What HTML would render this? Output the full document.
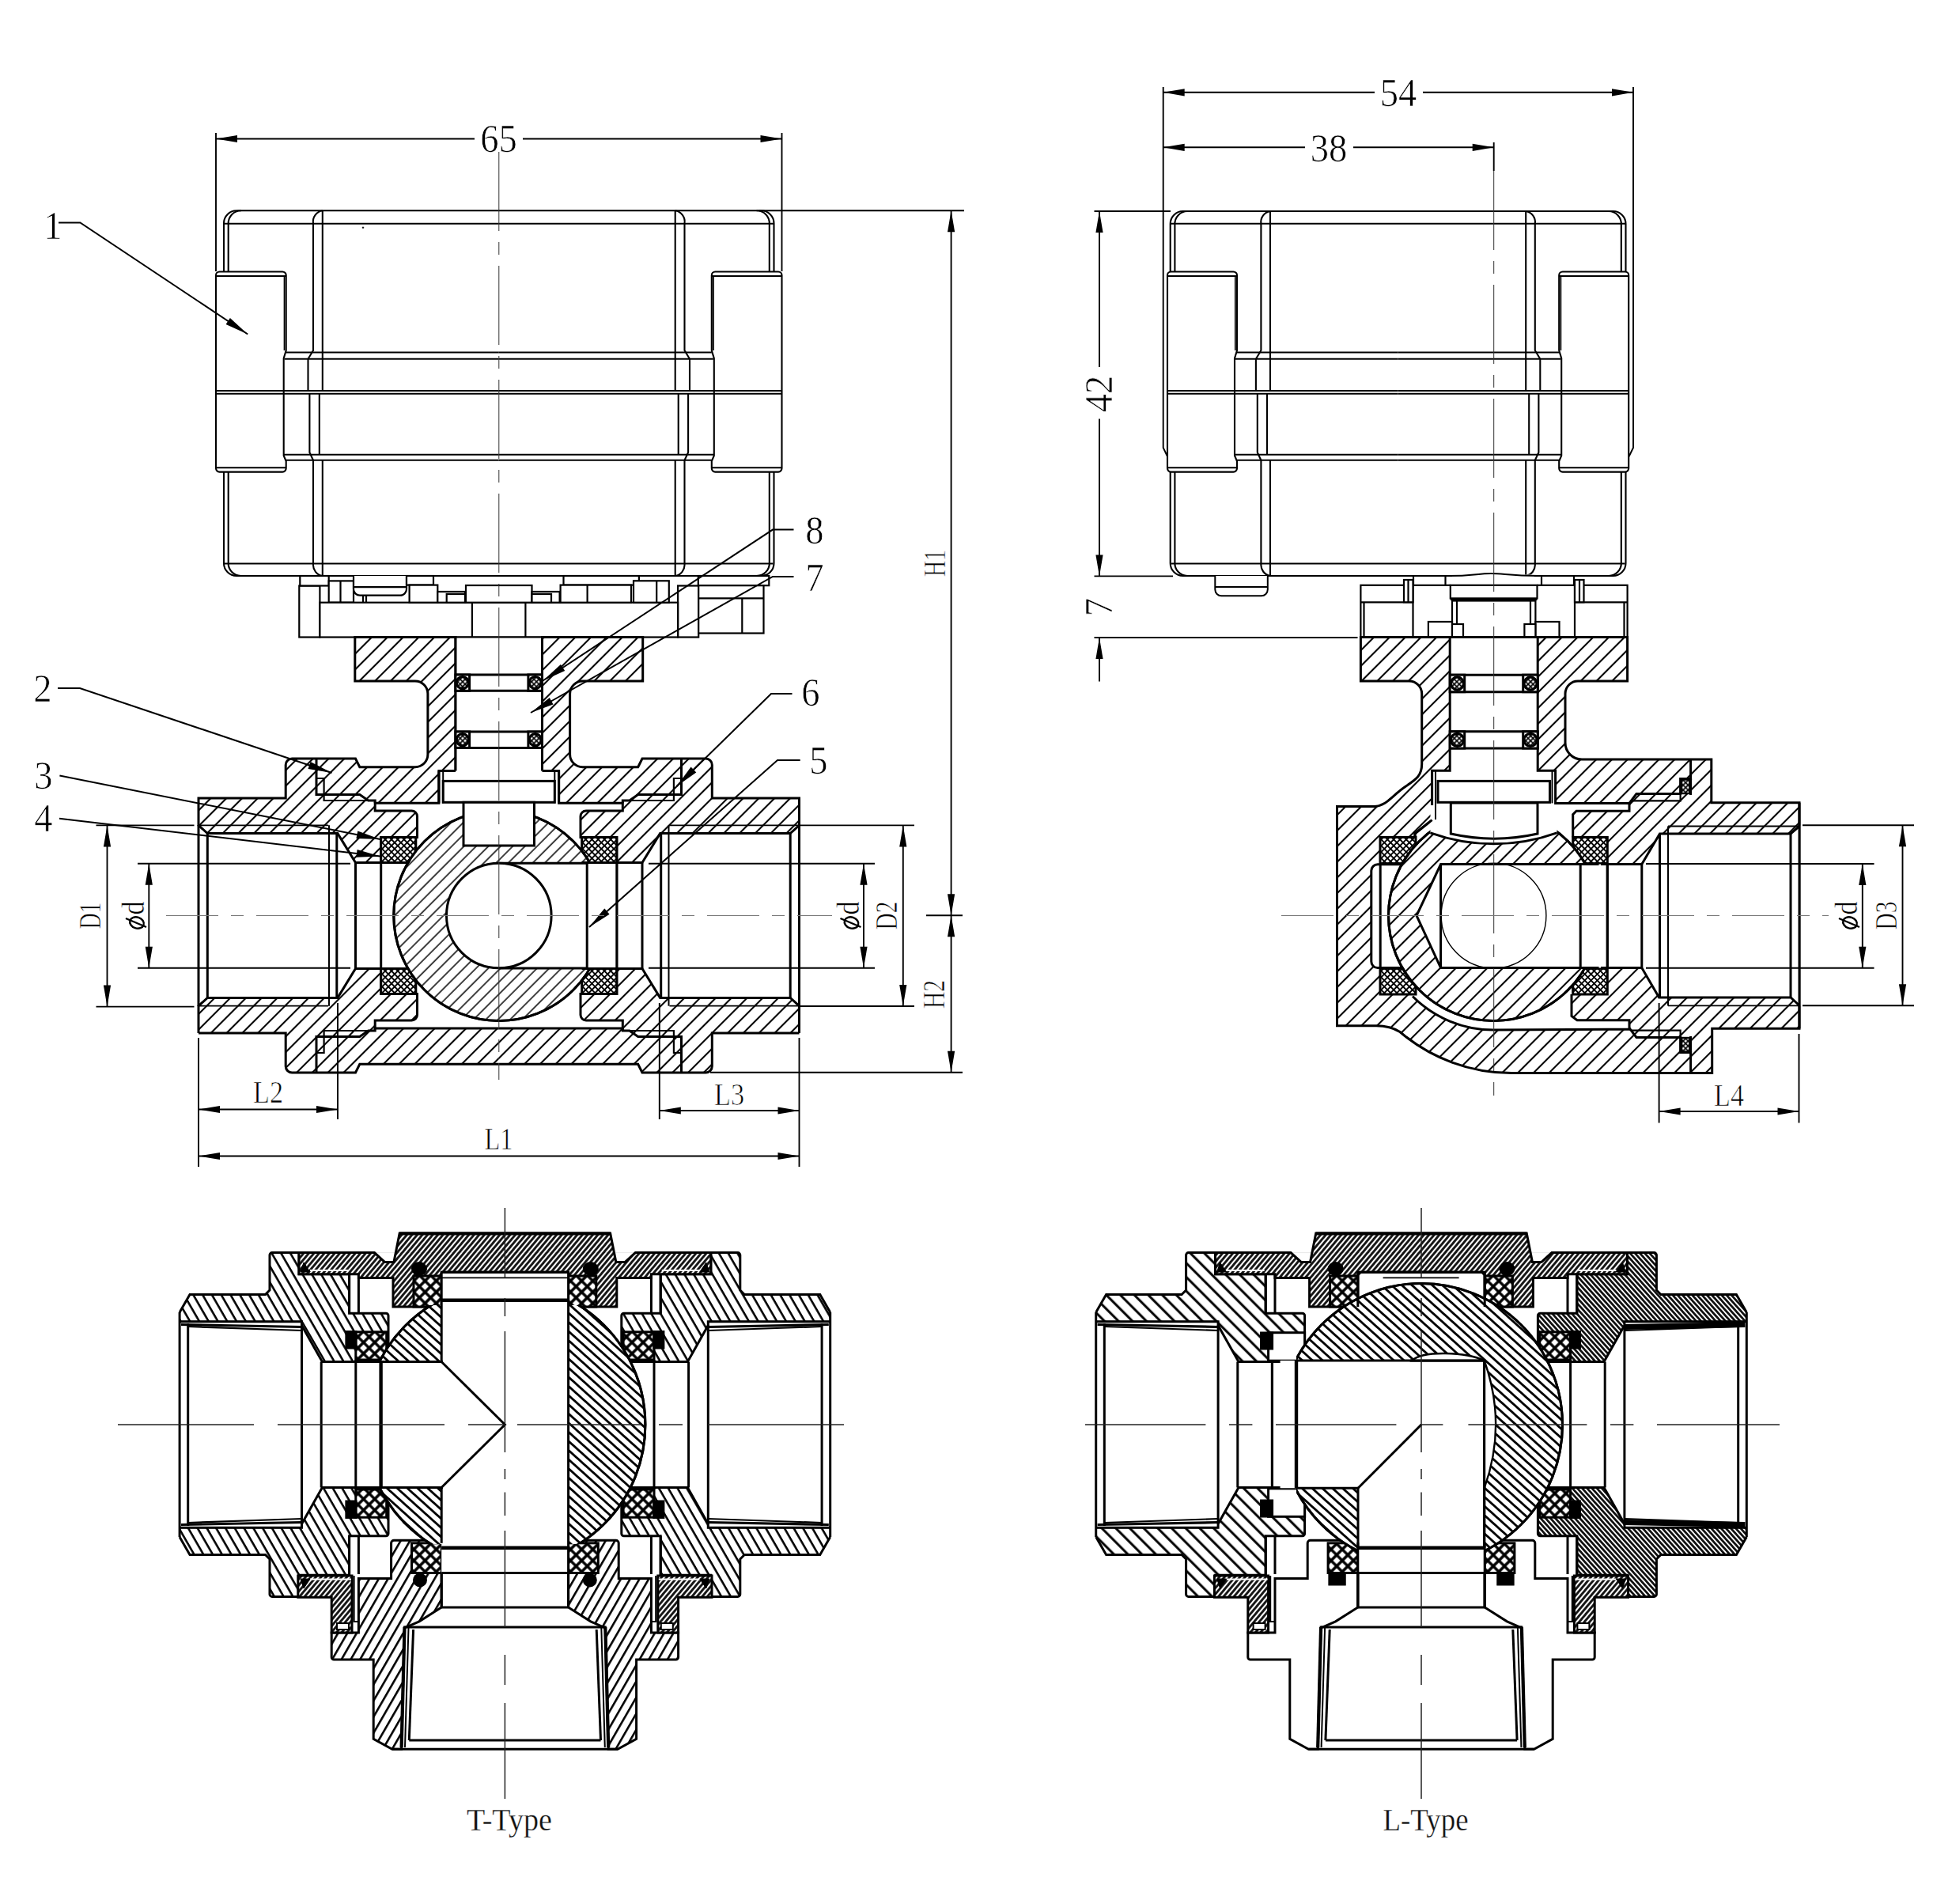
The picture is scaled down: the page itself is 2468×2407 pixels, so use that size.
<!DOCTYPE html>
<html><head><meta charset="utf-8"><title>3-way motorized ball valve drawing</title>
<style>html,body{margin:0;padding:0;background:#fff}svg{display:block;font-family:"Liberation Serif",serif}</style>
</head><body>
<svg width="2468" height="2407" viewBox="0 0 2468 2407">
<defs>
<pattern id="h1" width="14" height="14" patternUnits="userSpaceOnUse" patternTransform="rotate(-45)"><path d="M0,6 H14" stroke="#000" stroke-width="2.1"/></pattern>
<pattern id="h1b" width="14" height="14" patternUnits="userSpaceOnUse" patternTransform="rotate(-45)"><path d="M0,11 H14" stroke="#000" stroke-width="2.1"/></pattern>
<pattern id="hb" width="10.9" height="10.9" patternUnits="userSpaceOnUse" patternTransform="rotate(-45)"><path d="M0,5 H10.9" stroke="#000" stroke-width="1.5"/></pattern>
<pattern id="xh" width="5.6" height="5.6" patternUnits="userSpaceOnUse" patternTransform="rotate(-45)"><rect width="5.6" height="5.6" fill="#fff"/><path d="M0,2.8 H5.6 M2.8,0 V5.6" stroke="#000" stroke-width="1.9"/></pattern>
<pattern id="xs" width="4.4" height="4.4" patternUnits="userSpaceOnUse" patternTransform="rotate(-45)"><rect width="4.4" height="4.4" fill="#fff"/><path d="M0,2.2 H4.4 M2.2,0 V4.4" stroke="#000" stroke-width="1.6"/></pattern>
<pattern id="he" width="10.2" height="10.2" patternUnits="userSpaceOnUse" patternTransform="rotate(60)"><path d="M0,5 H10.2" stroke="#000" stroke-width="2.6"/></pattern>
<pattern id="hbody" width="10.2" height="10.2" patternUnits="userSpaceOnUse" patternTransform="rotate(-60)"><path d="M0,5 H10.2" stroke="#000" stroke-width="2.6"/></pattern>
<pattern id="hball" width="8.6" height="8.6" patternUnits="userSpaceOnUse" patternTransform="rotate(42)"><path d="M0,4.3 H8.6" stroke="#000" stroke-width="2.8"/></pattern>
<pattern id="hd" width="5" height="5" patternUnits="userSpaceOnUse" patternTransform="rotate(-50)"><rect width="5" height="5" fill="#fff"/><path d="M0,2.5 H5" stroke="#111" stroke-width="2.9"/></pattern>
<pattern id="hd2" width="4.6" height="4.6" patternUnits="userSpaceOnUse" patternTransform="rotate(48)"><rect width="4.6" height="4.6" fill="#fff"/><path d="M0,2.3 H4.6" stroke="#111" stroke-width="2.8"/></pattern>
<pattern id="he2" width="12.5" height="12.5" patternUnits="userSpaceOnUse" patternTransform="rotate(45)"><path d="M0,6 H12.5" stroke="#000" stroke-width="3"/></pattern>
<pattern id="xb" width="10" height="10" patternUnits="userSpaceOnUse" patternTransform="rotate(-45)"><rect width="10" height="10" fill="#fff"/><path d="M0,5 H10 M5,0 V10" stroke="#000" stroke-width="3.4"/></pattern>
<clipPath id="clipT"><rect x="470" y="1650" width="352" height="302"/></clipPath>
<clipPath id="clipL"><rect x="1639" y="1600" width="350" height="400"/></clipPath>
</defs>
<rect width="2468" height="2407" fill="#fff"/>

<path d="M299,266.3 L962.5,266.3 A16,16 0 0 1 978.5,282.3 L978.5,712 A16,16 0 0 1 962.5,728 L299,728 A16,16 0 0 1 283,712 L283,282.3 A16,16 0 0 1 299,266.3 Z" fill="#fff" stroke="#000" stroke-width="2.1" />
<path d="M283,282.8 L978.5,282.8" stroke="#000" stroke-width="2.1" fill="none" />
<path d="M284,712.5 L977.5,712.5" stroke="#000" stroke-width="2.1" fill="none" />
<path d="M305,266.3 A16,16 0 0 0 288.7,283.3 L288.7,344" fill="none" stroke="#000" stroke-width="2.1" />
<path d="M288.7,597 L288.7,711 A16,16 0 0 0 305,728" fill="none" stroke="#000" stroke-width="2.1" />
<path d="M407.8,266.3 A14,14 0 0 0 396,282.3 L396,443 L389.5,453.7 L389.5,494" fill="none" stroke="#000" stroke-width="2.1" />
<path d="M407.8,266.3 L407.8,494" fill="none" stroke="#000" stroke-width="2.1" />
<path d="M391.4,498 L391.4,572 L396,581.8 L396,713 A14,14 0 0 0 407.8,728" fill="none" stroke="#000" stroke-width="2.1" />
<path d="M403.8,498 L403.8,574.7" fill="none" stroke="#000" stroke-width="2.1" />
<path d="M407.8,581.8 L407.8,728" fill="none" stroke="#000" stroke-width="2.1" />
<path d="M361.7,445.5 L630.8,445.5" fill="none" stroke="#000" stroke-width="2.1" />
<path d="M359.7,453.7 L630.8,453.7" fill="none" stroke="#000" stroke-width="2.1" />
<path d="M358.7,574.7 L630.8,574.7" fill="none" stroke="#000" stroke-width="2.1" />
<path d="M361.7,581.8 L630.8,581.8" fill="none" stroke="#000" stroke-width="2.1" />
<path d="M273,348 A4.5,4.5 0 0 1 277.5,343.5 L357.2,343.5 A4.5,4.5 0 0 1 361.7,348 L361.7,443 L358.7,453 L358.7,576 L361.7,583 L361.7,592 A4.5,4.5 0 0 1 357.2,596.6 L277.5,596.6 A4.5,4.5 0 0 1 273,592 Z" fill="#fff" stroke="#000" stroke-width="2.1" />
<path d="M273,349 L361.7,349" fill="none" stroke="#000" stroke-width="2.1" />
<path d="M273,591.2 L361.7,591.2" fill="none" stroke="#000" stroke-width="2.1" />
<path d="M359.5,349 L359.5,443" fill="none" stroke="#000" stroke-width="1.7" />
<path d="M273,494 L630.8,494" fill="none" stroke="#000" stroke-width="2.1" />
<path d="M273,497.8 L630.8,497.8" fill="none" stroke="#000" stroke-width="2.1" />
<path d="M956.5,266.3 A16,16 0 0 1 972.8,283.3 L972.8,344" fill="none" stroke="#000" stroke-width="2.1" />
<path d="M972.8,597 L972.8,711 A16,16 0 0 1 956.5,728" fill="none" stroke="#000" stroke-width="2.1" />
<path d="M853.7,266.3 A14,14 0 0 1 865.5,282.3 L865.5,443 L872,453.7 L872,494" fill="none" stroke="#000" stroke-width="2.1" />
<path d="M853.7,266.3 L853.7,494" fill="none" stroke="#000" stroke-width="2.1" />
<path d="M870.1,498 L870.1,572 L865.5,581.8 L865.5,713 A14,14 0 0 1 853.7,728" fill="none" stroke="#000" stroke-width="2.1" />
<path d="M857.7,498 L857.7,574.7" fill="none" stroke="#000" stroke-width="2.1" />
<path d="M853.7,581.8 L853.7,728" fill="none" stroke="#000" stroke-width="2.1" />
<path d="M899.8,445.5 L630.8,445.5" fill="none" stroke="#000" stroke-width="2.1" />
<path d="M901.8,453.7 L630.8,453.7" fill="none" stroke="#000" stroke-width="2.1" />
<path d="M902.8,574.7 L630.8,574.7" fill="none" stroke="#000" stroke-width="2.1" />
<path d="M899.8,581.8 L630.8,581.8" fill="none" stroke="#000" stroke-width="2.1" />
<path d="M988.5,348 A4.5,4.5 0 0 0 984,343.5 L904.3,343.5 A4.5,4.5 0 0 0 899.8,348 L899.8,443 L902.8,453 L902.8,576 L899.8,583 L899.8,592 A4.5,4.5 0 0 0 904.3,596.6 L984,596.6 A4.5,4.5 0 0 0 988.5,592 Z" fill="#fff" stroke="#000" stroke-width="2.1" />
<path d="M988.5,349 L899.8,349" fill="none" stroke="#000" stroke-width="2.1" />
<path d="M988.5,591.2 L899.8,591.2" fill="none" stroke="#000" stroke-width="2.1" />
<path d="M902,349 L902,443" fill="none" stroke="#000" stroke-width="1.7" />
<path d="M988.5,494 L630.8,494" fill="none" stroke="#000" stroke-width="2.1" />
<path d="M988.5,497.8 L630.8,497.8" fill="none" stroke="#000" stroke-width="2.1" />
<circle cx="459" cy="287.7" r="0.9" fill="#000" stroke="#000" stroke-width="0.5" />
<rect x="378.3" y="740.5" width="26.1" height="65" rx="0" fill="#fff" stroke="#000" stroke-width="2.2" />
<rect x="857.1" y="740.5" width="26.1" height="65" rx="0" fill="#fff" stroke="#000" stroke-width="2.2" />
<rect x="379.3" y="728" width="36.4" height="12.5" rx="0" fill="#fff" stroke="#000" stroke-width="2.2" />
<rect x="415.7" y="734.4" width="31.3" height="27.3" rx="0" fill="#fff" stroke="#000" stroke-width="2.2" />
<path d="M430.5,734.4 L430.5,761.7" stroke="#000" stroke-width="2.2" fill="none" />
<rect x="404.4" y="761.7" width="452.7" height="43.8" rx="0" fill="#fff" stroke="#000" stroke-width="2.2" />
<path d="M447,728 L447,744.7 A8,8 0 0 0 455,752.7 L506,752.7 A8,8 0 0 0 514,744.7 L514,728" fill="#fff" stroke="#000" stroke-width="2.2" />
<path d="M447,742.2 L514,742.2" stroke="#000" stroke-width="2.2" fill="none" />
<path d="M459,752.7 L459,761.7" stroke="#000" stroke-width="2.2" fill="none" />
<path d="M463,752.7 L463,761.7" stroke="#000" stroke-width="2.2" fill="none" />
<rect x="514" y="728" width="34" height="11.6" rx="0" fill="#fff" stroke="#000" stroke-width="2.2" />
<rect x="517.6" y="739.6" width="35.7" height="22.1" rx="0" fill="#fff" stroke="#000" stroke-width="2.2" />
<rect x="553.3" y="748" width="34.7" height="13.7" rx="0" fill="#fff" stroke="#000" stroke-width="2.2" />
<rect x="564.7" y="751" width="23.3" height="10.7" rx="0" fill="#fff" stroke="#000" stroke-width="2.2" />
<rect x="589" y="740" width="83.5" height="21.7" rx="0" fill="#fff" stroke="#000" stroke-width="2.2" />
<rect x="672.5" y="748" width="35.1" height="13.7" rx="0" fill="#fff" stroke="#000" stroke-width="2.2" />
<rect x="672.5" y="751" width="24.5" height="10.7" rx="0" fill="#fff" stroke="#000" stroke-width="2.2" />
<rect x="712.5" y="728" width="95.4" height="11.6" rx="0" fill="#fff" stroke="#000" stroke-width="2.2" />
<rect x="708.6" y="739.6" width="89.4" height="22.1" rx="0" fill="#fff" stroke="#000" stroke-width="2.2" />
<path d="M742.6,739.6 L742.6,761.7" stroke="#000" stroke-width="2.2" fill="none" />
<rect x="801" y="734.3" width="44.8" height="27.4" rx="0" fill="#fff" stroke="#000" stroke-width="2.2" />
<path d="M830.2,734.3 L830.2,761.7" stroke="#000" stroke-width="2.2" fill="none" />
<rect x="882.8" y="728" width="89.5" height="12.2" rx="0" fill="#fff" stroke="#000" stroke-width="2.2" />
<rect x="883.2" y="740.2" width="82.3" height="60.3" rx="0" fill="#fff" stroke="#000" stroke-width="2.2" />
<path d="M883.2,756.3 L965.5,756.3" stroke="#000" stroke-width="2.2" fill="none" />
<path d="M938.3,756.3 L938.3,800.5" stroke="#000" stroke-width="2.2" fill="none" />
<path d="M596.9,761.7 L596.9,805.5" stroke="#000" stroke-width="2.2" fill="none" />
<path d="M664.4,761.7 L664.4,805.5" stroke="#000" stroke-width="2.2" fill="none" />
<path d="M251,1009 L361.2,1009 L361.2,967 A8,8 0 0 1 369.2,959 L449.5,959 L454.8,969.7 L524.9,969.7 A16,16 0 0 0 540.9,953.7 L540.9,877 A16,16 0 0 0 524.9,861 L448.8,861 L448.8,805.5 L576,805.5 L576,974.5 L554.9,974.5 L554.9,1015.3 L474.2,1015.3 L474.2,1025 L520.4,1025 A7,7 0 0 1 527.5,1032 L527.5,1058.4 L481.7,1058.4 L481.7,1090.6 L449.5,1090.6 L426.9,1053.6 L262.3,1053.6 L251,1043.3 Z" fill="url(#h1)" stroke="#000" stroke-width="3" />
<path d="M1010.5,1009 L900.3,1009 L900.3,967 A8,8 0 0 0 892.3,959 L812,959 L806.7,969.7 L736.6,969.7 A16,16 0 0 1 720.6,953.7 L720.6,877 A16,16 0 0 1 736.6,861 L812.7,861 L812.7,805.5 L685.5,805.5 L685.5,974.5 L706.6,974.5 L706.6,1015.3 L787.3,1015.3 L787.3,1025 L741.1,1025 A7,7 0 0 0 734,1032 L734,1058.4 L779.8,1058.4 L779.8,1090.6 L812,1090.6 L834.6,1053.6 L999.2,1053.6 L1010.5,1043.3 Z" fill="url(#h1)" stroke="#000" stroke-width="3" />
<path d="M251,1306 L361.2,1306 L361.2,1348 A8,8 0 0 0 369.2,1356 L449.5,1356 L454.8,1345.3 L630.8,1345.3 L630.8,1300 L474.2,1300 L474.2,1290 L520.4,1290 A7,7 0 0 0 527.5,1283 L527.5,1256.6 L481.7,1256.6 L481.7,1224.4 L449.5,1224.4 L426.9,1261.4 L262.3,1261.4 L251,1271.7 Z" fill="url(#h1)" stroke="none" stroke-width="0" />
<path d="M251,1306 L361.2,1306 L361.2,1348 A8,8 0 0 0 369.2,1356 L449.5,1356 L454.8,1345.3 L630.8,1345.3" fill="none" stroke="#000" stroke-width="3" />
<path d="M630.8,1300 L474.2,1300 L474.2,1290 L520.4,1290 A7,7 0 0 0 527.5,1283 L527.5,1256.6 L481.7,1256.6 L481.7,1224.4 L449.5,1224.4 L426.9,1261.4 L262.3,1261.4 L251,1271.7 L251,1306" fill="none" stroke="#000" stroke-width="3" />
<path d="M1010.5,1306 L900.3,1306 L900.3,1348 A8,8 0 0 1 892.3,1356 L812,1356 L806.7,1345.3 L630.8,1345.3 L630.8,1300 L787.3,1300 L787.3,1290 L741.1,1290 A7,7 0 0 1 734,1283 L734,1256.6 L779.8,1256.6 L779.8,1224.4 L812,1224.4 L834.6,1261.4 L999.2,1261.4 L1010.5,1271.7 Z" fill="url(#h1)" stroke="none" stroke-width="0" />
<path d="M1010.5,1306 L900.3,1306 L900.3,1348 A8,8 0 0 1 892.3,1356 L812,1356 L806.7,1345.3 L630.8,1345.3" fill="none" stroke="#000" stroke-width="3" />
<path d="M630.8,1300 L787.3,1300 L787.3,1290 L741.1,1290 A7,7 0 0 1 734,1283 L734,1256.6 L779.8,1256.6 L779.8,1224.4 L812,1224.4 L834.6,1261.4 L999.2,1261.4 L1010.5,1271.7 L1010.5,1306" fill="none" stroke="#000" stroke-width="3" />
<path d="M251,1043.3 L415,1043.3" fill="none" stroke="#000" stroke-width="1.8" />
<path d="M251,1271.7 L415,1271.7" fill="none" stroke="#000" stroke-width="1.8" />
<path d="M262.3,1053.6 L262.3,1261.4" fill="none" stroke="#000" stroke-width="3" />
<path d="M251,1043 L251,1272" fill="none" stroke="#000" stroke-width="3" />
<path d="M416,1043.3 L416,1271.7" fill="none" stroke="#000" stroke-width="2" />
<path d="M425.8,1053.6 L425.8,1261.4" fill="none" stroke="#000" stroke-width="3" />
<path d="M449.5,1090.6 L449.5,1224.4" fill="none" stroke="#000" stroke-width="3" />
<path d="M481.7,1090.6 L481.7,1224.4" fill="none" stroke="#000" stroke-width="3" />
<path d="M400,959 L400,1004.6 L454.8,1004.6 L465.6,1012 L474.2,1012 L474.2,1015.3" fill="none" stroke="#000" stroke-width="3" />
<path d="M400,984 L409.6,984 L409.6,1012 L465.6,1012" fill="none" stroke="#000" stroke-width="2.2" />
<path d="M481.7,1058.4 L525.8,1058.4 L525.8,1090.6 L481.7,1090.6 Z" fill="url(#xh)" stroke="#000" stroke-width="3" />
<path d="M400,1356 L400,1310.4 L454.8,1310.4 L465.6,1303 L474.2,1303 L474.2,1299.7" fill="none" stroke="#000" stroke-width="3" />
<path d="M400,1331 L409.6,1331 L409.6,1303 L465.6,1303" fill="none" stroke="#000" stroke-width="2.2" />
<path d="M481.7,1256.6 L525.8,1256.6 L525.8,1224.4 L481.7,1224.4 Z" fill="url(#xh)" stroke="#000" stroke-width="3" />
<path d="M554.9,974.5 L554.9,1015.3" fill="none" stroke="#000" stroke-width="3" />
<path d="M1010.5,1043.3 L846.5,1043.3" fill="none" stroke="#000" stroke-width="1.8" />
<path d="M1010.5,1271.7 L846.5,1271.7" fill="none" stroke="#000" stroke-width="1.8" />
<path d="M999.2,1053.6 L999.2,1261.4" fill="none" stroke="#000" stroke-width="3" />
<path d="M1010.5,1043 L1010.5,1272" fill="none" stroke="#000" stroke-width="3" />
<path d="M845.5,1043.3 L845.5,1271.7" fill="none" stroke="#000" stroke-width="2" />
<path d="M835.7,1053.6 L835.7,1261.4" fill="none" stroke="#000" stroke-width="3" />
<path d="M812,1090.6 L812,1224.4" fill="none" stroke="#000" stroke-width="3" />
<path d="M779.8,1090.6 L779.8,1224.4" fill="none" stroke="#000" stroke-width="3" />
<path d="M861.5,959 L861.5,1004.6 L806.7,1004.6 L795.9,1012 L787.3,1012 L787.3,1015.3" fill="none" stroke="#000" stroke-width="3" />
<path d="M861.5,984 L851.9,984 L851.9,1012 L795.9,1012" fill="none" stroke="#000" stroke-width="2.2" />
<path d="M779.8,1058.4 L735.7,1058.4 L735.7,1090.6 L779.8,1090.6 Z" fill="url(#xh)" stroke="#000" stroke-width="3" />
<path d="M861.5,1356 L861.5,1310.4 L806.7,1310.4 L795.9,1303 L787.3,1303 L787.3,1299.7" fill="none" stroke="#000" stroke-width="3" />
<path d="M861.5,1331 L851.9,1331 L851.9,1303 L795.9,1303" fill="none" stroke="#000" stroke-width="2.2" />
<path d="M779.8,1256.6 L735.7,1256.6 L735.7,1224.4 L779.8,1224.4 Z" fill="url(#xh)" stroke="#000" stroke-width="3" />
<path d="M706.6,974.5 L706.6,1015.3" fill="none" stroke="#000" stroke-width="3" />
<circle cx="630.8" cy="1157.5" r="133" fill="#fff" stroke="#000" stroke-width="3" />
<circle cx="630.8" cy="1157.5" r="133" fill="url(#hb)" stroke="#000" stroke-width="3" />
<rect x="630.8" y="1092" width="150.2" height="132" rx="0" fill="#fff" stroke="none" stroke-width="0" />
<path d="M630.8,1091.3 L742.2,1091.3" stroke="#000" stroke-width="3" fill="none" />
<path d="M630.8,1223.9 L742.2,1223.9" stroke="#000" stroke-width="3" fill="none" />
<path d="M742.2,1091.3 L742.2,1223.9" stroke="#000" stroke-width="3" fill="none" />
<path d="M779.8,1090.6 L779.8,1224.4" stroke="#000" stroke-width="3" fill="none" />
<path d="M735.7,1090.6 L779.8,1090.6" fill="none" stroke="#000" stroke-width="3" />
<path d="M735.7,1224.4 L779.8,1224.4" fill="none" stroke="#000" stroke-width="3" />
<circle cx="630.8" cy="1157.5" r="66.3" fill="#fff" stroke="#000" stroke-width="3" />
<rect x="576" y="805.5" width="109.5" height="181.9" rx="0" fill="#fff" stroke="none" stroke-width="0" />
<path d="M576,805.5 L576,974.5" stroke="#000" stroke-width="3" fill="none" />
<path d="M685.5,805.5 L685.5,974.5" stroke="#000" stroke-width="3" fill="none" />
<path d="M576,805.5 L685.5,805.5" stroke="#000" stroke-width="2.2" fill="none" />
<path d="M576,853 L685.5,853" stroke="#000" stroke-width="3" fill="none" />
<path d="M576,873.3 L685.5,873.3" stroke="#000" stroke-width="3" fill="none" />
<rect x="576" y="853" width="17.6" height="20.3" rx="0" fill="#fff" stroke="#000" stroke-width="3" />
<circle cx="584.8" cy="863.1" r="7.6" fill="url(#xs)" stroke="#000" stroke-width="3.2" />
<rect x="667.9" y="853" width="17.6" height="20.3" rx="0" fill="#fff" stroke="#000" stroke-width="3" />
<circle cx="676.7" cy="863.1" r="7.6" fill="url(#xs)" stroke="#000" stroke-width="3.2" />
<path d="M576,925 L685.5,925" stroke="#000" stroke-width="3" fill="none" />
<path d="M576,945.4 L685.5,945.4" stroke="#000" stroke-width="3" fill="none" />
<rect x="576" y="925" width="17.6" height="20.4" rx="0" fill="#fff" stroke="#000" stroke-width="3" />
<circle cx="584.8" cy="935.2" r="7.6" fill="url(#xs)" stroke="#000" stroke-width="3.2" />
<rect x="667.9" y="925" width="17.6" height="20.4" rx="0" fill="#fff" stroke="#000" stroke-width="3" />
<circle cx="676.7" cy="935.2" r="7.6" fill="url(#xs)" stroke="#000" stroke-width="3.2" />
<path d="M554.9,974.5 L574.5,974.5" fill="none" stroke="#000" stroke-width="3" />
<path d="M687,974.5 L706.6,974.5" fill="none" stroke="#000" stroke-width="3" />
<rect x="560.2" y="987.4" width="141.1" height="26.9" rx="0" fill="#fff" stroke="#000" stroke-width="3" />
<path d="M560.2,974.5 L560.2,1015.3" stroke="#000" stroke-width="2" fill="none" />
<path d="M701.3,974.5 L701.3,1015.3" stroke="#000" stroke-width="2" fill="none" />
<rect x="586" y="1014.3" width="89.5" height="54.7" rx="0" fill="#fff" stroke="#000" stroke-width="3" />
<path d="M273,168 L273,343" stroke="#000" stroke-width="1.9" fill="none" />
<path d="M988.5,168 L988.5,343" stroke="#000" stroke-width="1.9" fill="none" />
<path d="M273,175.5 L600,175.5" stroke="#000" stroke-width="1.9" fill="none" />
<path d="M661,175.5 L988.5,175.5" stroke="#000" stroke-width="1.9" fill="none" />
<path d="M273,175.5 L300,170.9 L300,180.1 Z" fill="#000"/>
<path d="M988.5,175.5 L961.5,180.1 L961.5,170.9 Z" fill="#000"/>
<text x="630.5" y="191.5" font-size="51" text-anchor="middle" fill="#000" stroke="#fff" stroke-width="0.7" textLength="46.6" lengthAdjust="spacingAndGlyphs" >65</text>
<path d="M960,266.3 L1219,266.3" stroke="#000" stroke-width="1.9" fill="none" />
<path d="M1171,1157.3 L1217,1157.3" stroke="#000" stroke-width="1.9" fill="none" />
<path d="M898,1355.7 L1217,1355.7" stroke="#000" stroke-width="1.9" fill="none" />
<path d="M1202.6,266.3 L1202.6,1157.3" stroke="#000" stroke-width="1.9" fill="none" />
<path d="M1202.6,266.3 L1207.2,293.3 L1198,293.3 Z" fill="#000"/>
<path d="M1202.6,1157.3 L1198,1130.3 L1207.2,1130.3 Z" fill="#000"/>
<path d="M1202.6,1157.3 L1202.6,1355.7" stroke="#000" stroke-width="1.9" fill="none" />
<path d="M1202.6,1157.3 L1207.2,1184.3 L1198,1184.3 Z" fill="#000"/>
<path d="M1202.6,1355.7 L1198,1328.7 L1207.2,1328.7 Z" fill="#000"/>
<text x="1195" y="712" font-size="39" text-anchor="middle" fill="#000" stroke="#fff" stroke-width="0.7" transform="rotate(-90 1195 712)" textLength="34" lengthAdjust="spacingAndGlyphs" >H1</text>
<text x="1194" y="1257" font-size="39" text-anchor="middle" fill="#000" stroke="#fff" stroke-width="0.7" transform="rotate(-90 1194 1257)" textLength="36" lengthAdjust="spacingAndGlyphs" >H2</text>
<path d="M1012,1043.4 L1156,1043.4" stroke="#000" stroke-width="1.9" fill="none" />
<path d="M1012,1272 L1156,1272" stroke="#000" stroke-width="1.9" fill="none" />
<path d="M1141.8,1043.4 L1141.8,1272" stroke="#000" stroke-width="1.9" fill="none" />
<path d="M1141.8,1043.4 L1146.4,1070.4 L1137.2,1070.4 Z" fill="#000"/>
<path d="M1141.8,1272 L1137.2,1245 L1146.4,1245 Z" fill="#000"/>
<text x="1134" y="1157.5" font-size="39" text-anchor="middle" fill="#000" stroke="#fff" stroke-width="0.7" transform="rotate(-90 1134 1157.5)" textLength="36" lengthAdjust="spacingAndGlyphs" >D2</text>
<path d="M820,1091.8 L1106,1091.8" stroke="#000" stroke-width="1.9" fill="none" />
<path d="M820,1223.7 L1106,1223.7" stroke="#000" stroke-width="1.9" fill="none" />
<path d="M1092,1091.8 L1092,1223.7" stroke="#000" stroke-width="1.9" fill="none" />
<path d="M1092,1091.8 L1096.6,1118.8 L1087.4,1118.8 Z" fill="#000"/>
<path d="M1092,1223.7 L1087.4,1196.7 L1096.6,1196.7 Z" fill="#000"/>
<g transform="translate(1073.5 1157.5) rotate(-90)">
<ellipse cx="-9" cy="3" rx="7" ry="9" fill="none" stroke="#000" stroke-width="2.4" transform="rotate(18 -9 3)"/>
<path d="M-14.5,15 L-3.5,-11" stroke="#000" stroke-width="2.4"/>
<text x="1" y="12" font-size="39" textLength="17" lengthAdjust="spacingAndGlyphs" stroke="#fff" stroke-width="0.6">d</text>
</g>
<path d="M121.5,1043.4 L245.5,1043.4" stroke="#000" stroke-width="1.9" fill="none" />
<path d="M121.5,1272.6 L245.5,1272.6" stroke="#000" stroke-width="1.9" fill="none" />
<path d="M135.5,1043.4 L135.5,1272.6" stroke="#000" stroke-width="1.9" fill="none" />
<path d="M135.5,1043.4 L140.1,1070.4 L130.9,1070.4 Z" fill="#000"/>
<path d="M135.5,1272.6 L130.9,1245.6 L140.1,1245.6 Z" fill="#000"/>
<text x="127" y="1157.5" font-size="39" text-anchor="middle" fill="#000" stroke="#fff" stroke-width="0.7" transform="rotate(-90 127 1157.5)" textLength="34" lengthAdjust="spacingAndGlyphs" >D1</text>
<path d="M174,1091.8 L443,1091.8" stroke="#000" stroke-width="1.9" fill="none" />
<path d="M174,1223.7 L443,1223.7" stroke="#000" stroke-width="1.9" fill="none" />
<path d="M188.3,1091.8 L188.3,1223.7" stroke="#000" stroke-width="1.9" fill="none" />
<path d="M188.3,1091.8 L192.9,1118.8 L183.7,1118.8 Z" fill="#000"/>
<path d="M188.3,1223.7 L183.7,1196.7 L192.9,1196.7 Z" fill="#000"/>
<g transform="translate(170 1157.5) rotate(-90)">
<ellipse cx="-9" cy="3" rx="7" ry="9" fill="none" stroke="#000" stroke-width="2.4" transform="rotate(18 -9 3)"/>
<path d="M-14.5,15 L-3.5,-11" stroke="#000" stroke-width="2.4"/>
<text x="1" y="12" font-size="39" textLength="17" lengthAdjust="spacingAndGlyphs" stroke="#fff" stroke-width="0.6">d</text>
</g>
<path d="M251,1312 L251,1475" stroke="#000" stroke-width="1.9" fill="none" />
<path d="M1010.5,1312 L1010.5,1475" stroke="#000" stroke-width="1.9" fill="none" />
<path d="M427,1268 L427,1415" stroke="#000" stroke-width="1.9" fill="none" />
<path d="M833.8,1268 L833.8,1415" stroke="#000" stroke-width="1.9" fill="none" />
<path d="M251,1402.5 L427,1402.5" stroke="#000" stroke-width="1.9" fill="none" />
<path d="M251,1402.5 L278,1397.9 L278,1407.1 Z" fill="#000"/>
<path d="M427,1402.5 L400,1407.1 L400,1397.9 Z" fill="#000"/>
<path d="M833.8,1404 L1010.5,1404" stroke="#000" stroke-width="1.9" fill="none" />
<path d="M833.8,1404 L860.8,1399.4 L860.8,1408.6 Z" fill="#000"/>
<path d="M1010.5,1404 L983.5,1408.6 L983.5,1399.4 Z" fill="#000"/>
<path d="M251,1461.5 L1010.5,1461.5" stroke="#000" stroke-width="1.9" fill="none" />
<path d="M251,1461.5 L278,1456.9 L278,1466.1 Z" fill="#000"/>
<path d="M1010.5,1461.5 L983.5,1466.1 L983.5,1456.9 Z" fill="#000"/>
<text x="339" y="1394" font-size="39" text-anchor="middle" fill="#000" stroke="#fff" stroke-width="0.7" textLength="38" lengthAdjust="spacingAndGlyphs" >L2</text>
<text x="922" y="1397" font-size="39" text-anchor="middle" fill="#000" stroke="#fff" stroke-width="0.7" textLength="38" lengthAdjust="spacingAndGlyphs" >L3</text>
<text x="630.5" y="1453" font-size="39" text-anchor="middle" fill="#000" stroke="#fff" stroke-width="0.7" textLength="36" lengthAdjust="spacingAndGlyphs" >L1</text>
<text x="67" y="302.3" font-size="51" text-anchor="middle" fill="#000" stroke="#fff" stroke-width="0.7" textLength="23.3" lengthAdjust="spacingAndGlyphs" >1</text>
<path d="M74,281.4 L101.4,281.4 L313.2,422.5" fill="none" stroke="#000" stroke-width="2" />
<path d="M313.2,422.5 L285.6,409.9 L290.9,401.9 Z" fill="#000"/>
<text x="54" y="886.8" font-size="51" text-anchor="middle" fill="#000" stroke="#fff" stroke-width="0.7" textLength="23.3" lengthAdjust="spacingAndGlyphs" >2</text>
<path d="M73,870 L101,870 L419.5,977" fill="none" stroke="#000" stroke-width="2" />
<path d="M419.5,977 L389.5,972 L392.6,962.9 Z" fill="#000"/>
<text x="55" y="997.3" font-size="51" text-anchor="middle" fill="#000" stroke="#fff" stroke-width="0.7" textLength="23.3" lengthAdjust="spacingAndGlyphs" >3</text>
<path d="M75.4,980.6 L480.8,1061" fill="none" stroke="#000" stroke-width="2" />
<path d="M480.8,1061 L450.4,1059.9 L452.3,1050.5 Z" fill="#000"/>
<text x="55" y="1051.3" font-size="51" text-anchor="middle" fill="#000" stroke="#fff" stroke-width="0.7" textLength="23.3" lengthAdjust="spacingAndGlyphs" >4</text>
<path d="M75,1034.7 L480.8,1082.4" fill="none" stroke="#000" stroke-width="2" />
<path d="M480.8,1082.4 L450.4,1083.7 L451.6,1074.1 Z" fill="#000"/>
<text x="1030" y="687" font-size="51" text-anchor="middle" fill="#000" stroke="#fff" stroke-width="0.7" textLength="23.3" lengthAdjust="spacingAndGlyphs" >8</text>
<path d="M1003.5,669.6 L977,669.6 L686.5,860.5" fill="none" stroke="#000" stroke-width="2" />
<path d="M686.5,860.5 L708.9,840 L714.2,848 Z" fill="#000"/>
<text x="1030" y="746.5" font-size="51" text-anchor="middle" fill="#000" stroke="#fff" stroke-width="0.7" textLength="23.3" lengthAdjust="spacingAndGlyphs" >7</text>
<path d="M1003.5,729 L977,729 L671,901" fill="none" stroke="#000" stroke-width="2" />
<path d="M671,901 L694.8,882.1 L699.5,890.5 Z" fill="#000"/>
<text x="1025" y="892.3" font-size="51" text-anchor="middle" fill="#000" stroke="#fff" stroke-width="0.7" textLength="23.3" lengthAdjust="spacingAndGlyphs" >6</text>
<path d="M1001.5,877 L975,877 L855.5,994" fill="none" stroke="#000" stroke-width="2" />
<path d="M855.5,994 L873.6,969.6 L880.3,976.4 Z" fill="#000"/>
<text x="1035" y="977.5" font-size="51" text-anchor="middle" fill="#000" stroke="#fff" stroke-width="0.7" textLength="23.3" lengthAdjust="spacingAndGlyphs" >5</text>
<path d="M1011.7,961 L983,961 L745,1172" fill="none" stroke="#000" stroke-width="2" />
<path d="M745,1172 L764.3,1148.5 L770.6,1155.7 Z" fill="#000"/>
<path d="M630.8,192 L630.8,1365" stroke="#333" stroke-width="1" fill="none" stroke-dasharray="100 14 16 14"/>
<path d="M210,1157.5 L1052,1157.5" stroke="#777" stroke-width="1.2" fill="none" stroke-dasharray="66 16 16 16"/>
<path d="M1495.7,267 L2039.5,267 A16,16 0 0 1 2055.5,283 L2055.5,712 A16,16 0 0 1 2039.5,728 L1495.7,728 A16,16 0 0 1 1479.7,712 L1479.7,283 A16,16 0 0 1 1495.7,267 Z" fill="#fff" stroke="#000" stroke-width="2.1" />
<path d="M1479.7,282.8 L2055.5,282.8" stroke="#000" stroke-width="2.1" fill="none" />
<path d="M1480.7,712.5 L2054.5,712.5" stroke="#000" stroke-width="2.1" fill="none" />
<path d="M1501.7,267 A16,16 0 0 0 1485.4,284 L1485.4,344" fill="none" stroke="#000" stroke-width="2.1" />
<path d="M1485.4,597 L1485.4,711 A16,16 0 0 0 1501.7,728" fill="none" stroke="#000" stroke-width="2.1" />
<path d="M1606,267 A14,14 0 0 0 1594.4,283 L1594.4,443 L1587.9,453.7 L1587.9,494" fill="none" stroke="#000" stroke-width="2.1" />
<path d="M1606,267 L1606,494" fill="none" stroke="#000" stroke-width="2.1" />
<path d="M1589.8,498 L1589.8,572 L1594.4,581.8 L1594.4,713 A14,14 0 0 0 1606,728" fill="none" stroke="#000" stroke-width="2.1" />
<path d="M1602,498 L1602,574.7" fill="none" stroke="#000" stroke-width="2.1" />
<path d="M1606,581.8 L1606,728" fill="none" stroke="#000" stroke-width="2.1" />
<path d="M1564,445.5 L1767.6,445.5" fill="none" stroke="#000" stroke-width="2.1" />
<path d="M1562,453.7 L1767.6,453.7" fill="none" stroke="#000" stroke-width="2.1" />
<path d="M1561,574.7 L1767.6,574.7" fill="none" stroke="#000" stroke-width="2.1" />
<path d="M1564,581.8 L1767.6,581.8" fill="none" stroke="#000" stroke-width="2.1" />
<path d="M1476,348 A4.5,4.5 0 0 1 1480.5,343.5 L1559.5,343.5 A4.5,4.5 0 0 1 1564,348 L1564,443 L1561,453 L1561,576 L1564,583 L1564,592 A4.5,4.5 0 0 1 1559.5,596.6 L1480.5,596.6 A4.5,4.5 0 0 1 1476,592 Z" fill="#fff" stroke="#000" stroke-width="2.1" />
<path d="M1476,349 L1564,349" fill="none" stroke="#000" stroke-width="2.1" />
<path d="M1476,591.2 L1564,591.2" fill="none" stroke="#000" stroke-width="2.1" />
<path d="M1561.8,349 L1561.8,443" fill="none" stroke="#000" stroke-width="1.7" />
<path d="M1476,494 L1767.6,494" fill="none" stroke="#000" stroke-width="2.1" />
<path d="M1476,497.8 L1767.6,497.8" fill="none" stroke="#000" stroke-width="2.1" />
<path d="M2033.5,267 A16,16 0 0 1 2049.8,284 L2049.8,344" fill="none" stroke="#000" stroke-width="2.1" />
<path d="M2049.8,597 L2049.8,711 A16,16 0 0 1 2033.5,728" fill="none" stroke="#000" stroke-width="2.1" />
<path d="M1929.2,267 A14,14 0 0 1 1940.8,283 L1940.8,443 L1947.3,453.7 L1947.3,494" fill="none" stroke="#000" stroke-width="2.1" />
<path d="M1929.2,267 L1929.2,494" fill="none" stroke="#000" stroke-width="2.1" />
<path d="M1945.4,498 L1945.4,572 L1940.8,581.8 L1940.8,713 A14,14 0 0 1 1929.2,728" fill="none" stroke="#000" stroke-width="2.1" />
<path d="M1933.2,498 L1933.2,574.7" fill="none" stroke="#000" stroke-width="2.1" />
<path d="M1929.2,581.8 L1929.2,728" fill="none" stroke="#000" stroke-width="2.1" />
<path d="M1971.2,445.5 L1767.6,445.5" fill="none" stroke="#000" stroke-width="2.1" />
<path d="M1973.2,453.7 L1767.6,453.7" fill="none" stroke="#000" stroke-width="2.1" />
<path d="M1974.2,574.7 L1767.6,574.7" fill="none" stroke="#000" stroke-width="2.1" />
<path d="M1971.2,581.8 L1767.6,581.8" fill="none" stroke="#000" stroke-width="2.1" />
<path d="M2059.2,348 A4.5,4.5 0 0 0 2054.7,343.5 L1975.7,343.5 A4.5,4.5 0 0 0 1971.2,348 L1971.2,443 L1974.2,453 L1974.2,576 L1971.2,583 L1971.2,592 A4.5,4.5 0 0 0 1975.7,596.6 L2054.7,596.6 A4.5,4.5 0 0 0 2059.2,592 Z" fill="#fff" stroke="#000" stroke-width="2.1" />
<path d="M2059.2,349 L1971.2,349" fill="none" stroke="#000" stroke-width="2.1" />
<path d="M2059.2,591.2 L1971.2,591.2" fill="none" stroke="#000" stroke-width="2.1" />
<path d="M1973.4,349 L1973.4,443" fill="none" stroke="#000" stroke-width="1.7" />
<path d="M2059.2,494 L1767.6,494" fill="none" stroke="#000" stroke-width="2.1" />
<path d="M2059.2,497.8 L1767.6,497.8" fill="none" stroke="#000" stroke-width="2.1" />
<path d="M1536.3,728 L1536.3,745.3 A8,8 0 0 0 1544.3,753.3 L1594.8,753.3 A8,8 0 0 0 1602.8,745.3 L1602.8,728" fill="#fff" stroke="#000" stroke-width="2" />
<path d="M1536.3,742 L1602.8,742" stroke="#000" stroke-width="2" fill="none" />
<path d="M1836,728 L1940,728" stroke="#fff" stroke-width="3.2" fill="none" />
<path d="M1830,728 C1862 728 1868 725 1885 725 C1902 725 1908 728 1946 728" fill="none" stroke="#000" stroke-width="2" />
<rect x="1720.4" y="739.8" width="66.1" height="65.6" rx="0" fill="#fff" stroke="#000" stroke-width="2.2" />
<path d="M1720.4,761.3 L1786.5,761.3" stroke="#000" stroke-width="2.2" fill="none" />
<path d="M1724.5,761.3 L1724.5,805.4" stroke="#000" stroke-width="2.2" fill="none" />
<rect x="1775" y="733" width="11.5" height="28.3" rx="0" fill="#fff" stroke="#000" stroke-width="2.2" />
<path d="M1780.5,733 L1780.5,761.3" stroke="#000" stroke-width="2.2" fill="none" />
<rect x="1991" y="739.8" width="66.6" height="65.6" rx="0" fill="#fff" stroke="#000" stroke-width="2.2" />
<path d="M1991,761.3 L2057.6,761.3" stroke="#000" stroke-width="2.2" fill="none" />
<path d="M2053.5,761.3 L2053.5,805.4" stroke="#000" stroke-width="2.2" fill="none" />
<rect x="1991" y="733" width="11.5" height="28.3" rx="0" fill="#fff" stroke="#000" stroke-width="2.2" />
<path d="M1997,733 L1997,761.3" stroke="#000" stroke-width="2.2" fill="none" />
<path d="M1787,728 L1787,739.8" stroke="#000" stroke-width="2.2" fill="none" />
<path d="M1827.5,728 L1827.5,739.8" stroke="#000" stroke-width="2.2" fill="none" />
<path d="M1949,728 L1949,739.8" stroke="#000" stroke-width="2.2" fill="none" />
<path d="M1990,728 L1990,739.8" stroke="#000" stroke-width="2.2" fill="none" />
<path d="M1787,739.8 L1833.8,739.8" stroke="#000" stroke-width="2.2" fill="none" />
<path d="M1943.5,739.8 L1991,739.8" stroke="#000" stroke-width="2.2" fill="none" />
<rect x="1833.8" y="739.8" width="109.7" height="16.6" rx="0" fill="#fff" stroke="#000" stroke-width="2.2" />
<rect x="1836" y="759.5" width="105.4" height="45.9" rx="0" fill="#fff" stroke="#000" stroke-width="2.2" />
<path d="M1833.8,758 L1943.5,758" stroke="#000" stroke-width="2.2" fill="none" />
<path d="M1842,759.5 L1842,790" stroke="#000" stroke-width="2.2" fill="none" />
<path d="M1935,759.5 L1935,790" stroke="#000" stroke-width="2.2" fill="none" />
<rect x="1805.9" y="786" width="30.1" height="19.4" rx="0" fill="#fff" stroke="#000" stroke-width="2.2" />
<rect x="1836" y="789" width="14" height="16.4" rx="0" fill="#fff" stroke="#000" stroke-width="2.2" />
<rect x="1941.4" y="786" width="30.1" height="19.4" rx="0" fill="#fff" stroke="#000" stroke-width="2.2" />
<rect x="1927.4" y="789" width="14" height="16.4" rx="0" fill="#fff" stroke="#000" stroke-width="2.2" />
<path d="M1720.4,805.4 L2057.6,805.4 L2057.6,861 L1995,861 A16,16 0 0 0 1979,877 L1979,939 A21,21 0 0 0 2000,960 L2163.8,960 L2163.8,1014.8 L2275,1014.8 L2275,1300.3 L2164.7,1300.3 L2164.7,1356.5 L1911,1356.5 A217.8,217.8 0 0 1 1770,1304.5 Q1758 1296.7 1740 1296.7 L1690.5,1296.7 L1690.5,1019.4 L1738,1019.4 C1752 1019.4 1760 1006 1776 995 C1790 985.5 1797.7 981 1797.7 966 L1797.7,877 A16,16 0 0 0 1781.7,861 L1720.4,861 Z" fill="url(#h1)" stroke="#000" stroke-width="3" />
<rect x="1833.2" y="806.8" width="111" height="173.2" rx="0" fill="#fff" stroke="none" stroke-width="0" />
<path d="M1810.6,974.2 L1966.6,974.2 L1966.6,1015.4 L2060,1015.4 L2060,1025.3 L1993,1025.3 L1988.7,1029.6 L1988.7,1110 L1789,1110 L1789,1053.8 L1810.6,1036.6 Z" fill="#fff" stroke="none" stroke-width="0" />
<path d="M1786,1259.5 A144.5,144.5 0 0 0 1888.7,1302 L2060,1301.2 L2060,1289.7 L1994,1289.7 L1987,1284.5 L1987,1200 L1786,1200 Z" fill="#fff" stroke="none" stroke-width="0" />
<path d="M1800,1092.8 L1741.8,1092.8 A8,8 0 0 0 1733.8,1100.8 L1733.8,1215.6 A8,8 0 0 0 1741.8,1223.6 L1800,1223.6 Z" fill="#fff" stroke="none" stroke-width="0" />
<path d="M1988.7,1092.4 L2075.8,1092.4 L2098.5,1054 L2264,1054 L2276.3,1043.5 L2276.3,1271.5 L2264,1261 L2097.6,1261 L2075.8,1223.5 L1988.7,1223.5 Z" fill="#fff" stroke="none" stroke-width="0" />
<path d="M1833.2,805.4 L1833.2,974.2 L1810.6,974.2 L1810.6,1036.6 L1789,1053.8 L1789,1058.4" fill="none" stroke="#000" stroke-width="3" />
<path d="M1944.2,805.4 L1944.2,974.2 L1966.6,974.2 L1966.6,1015.4 L2060,1015.4 L2060,1025.3 L1993,1025.3 L1988.7,1029.6 L1988.7,1058.4" fill="none" stroke="#000" stroke-width="3" />
<path d="M1786,1259.5 A144.5,144.5 0 0 0 1888.7,1302 L2060,1301.2 L2060,1289.7 L1994,1289.7 L1987,1284.5 L1987,1257" fill="none" stroke="#000" stroke-width="3" />
<path d="M1800,1092.8 L1741.8,1092.8 A8,8 0 0 0 1733.8,1100.8 L1733.8,1215.6 A8,8 0 0 0 1741.8,1223.6 L1800,1223.6" fill="none" stroke="#000" stroke-width="3" />
<path d="M1745.2,1092.8 L1745.2,1223.6" stroke="#000" stroke-width="3" fill="none" />
<path d="M1988.7,1092.4 L2075.8,1092.4 L2098.5,1054 L2264,1054 L2275,1044.5" fill="none" stroke="#000" stroke-width="3" />
<path d="M1988.7,1223.5 L2075.8,1223.5 L2097.6,1261 L2264,1261 L2275,1271" fill="none" stroke="#000" stroke-width="3" />
<path d="M2109,1044.5 L2275,1044.5" stroke="#000" stroke-width="1.8" fill="none" />
<path d="M2109,1271.4 L2275,1271.4" stroke="#000" stroke-width="1.8" fill="none" />
<path d="M2032.3,1092.4 L2032.3,1223.5" stroke="#000" stroke-width="3" fill="none" />
<path d="M2075.8,1092.4 L2075.8,1223.5" stroke="#000" stroke-width="3" fill="none" />
<path d="M2264,1054 L2264,1261" stroke="#000" stroke-width="3" fill="none" />
<path d="M2098.5,1054 L2098.5,1261" stroke="#000" stroke-width="3" fill="none" />
<path d="M2109,1044.5 L2109,1271.4" stroke="#000" stroke-width="2" fill="none" />
<path d="M2275,1014.8 L2275,1300.3" stroke="#000" stroke-width="3" fill="none" />
<path d="M2060,1015.4 L2069,1003.5 L2124.6,1003.5 L2124.6,984.4 L2137.6,984.4 L2137.6,960" fill="none" stroke="#000" stroke-width="3" />
<path d="M2062,1012.3 L2124.6,1012.3 L2124.6,1003.5" fill="none" stroke="#000" stroke-width="2.2" />
<rect x="2126" y="985.5" width="10.4" height="17.5" rx="0" fill="url(#xs)" stroke="#000" stroke-width="2.4" />
<path d="M2137.6,984.4 L2137.6,1005" stroke="#000" stroke-width="3" fill="none" />
<path d="M2060,1299.6 L2069,1311.5 L2124.6,1311.5 L2124.6,1330.6 L2137.6,1330.6 L2137.6,1355" fill="none" stroke="#000" stroke-width="3" />
<path d="M2062,1302.7 L2124.6,1302.7 L2124.6,1311.5" fill="none" stroke="#000" stroke-width="2.2" />
<rect x="2126" y="1312" width="10.4" height="17.5" rx="0" fill="url(#xs)" stroke="#000" stroke-width="2.4" />
<path d="M2137.6,1330.6 L2137.6,1310" stroke="#000" stroke-width="3" fill="none" />
<rect x="1745" y="1058.4" width="45" height="33.2" rx="0" fill="url(#xh)" stroke="#000" stroke-width="3" />
<rect x="1745" y="1224.4" width="45" height="32.6" rx="0" fill="url(#xh)" stroke="#000" stroke-width="3" />
<rect x="1988.7" y="1058.4" width="43.6" height="33.2" rx="0" fill="url(#xh)" stroke="#000" stroke-width="3" />
<rect x="1988.7" y="1224.4" width="43.6" height="32.6" rx="0" fill="url(#xh)" stroke="#000" stroke-width="3" />
<circle cx="1888.5" cy="1157.5" r="133" fill="#fff" stroke="#000" stroke-width="3" />
<circle cx="1888.5" cy="1157.5" r="133" fill="url(#h1b)" stroke="#000" stroke-width="3" />
<path d="M1791,1157.5 L1821.6,1092.6 L2024,1092.6 L2024,1223.6 L1821.6,1223.6 Z" fill="#fff" stroke="none" stroke-width="0" />
<path d="M2021.5,1092.6 L1821.6,1092.6 L1791,1157.5 L1821.6,1223.6 L2021.5,1223.6" fill="none" stroke="#000" stroke-width="3" />
<path d="M1821.6,1092.6 L1821.6,1223.6" stroke="#000" stroke-width="3" fill="none" />
<circle cx="1888.5" cy="1157.5" r="66.4" fill="none" stroke="#000" stroke-width="1.4" />
<path d="M1998.2,1092.4 L1998.2,1223.5" stroke="#000" stroke-width="3" fill="none" />
<path d="M2032.3,1092.4 L2032.3,1223.5" stroke="#000" stroke-width="3" fill="none" />
<path d="M1808.5,1052.8 A236,236 0 0 0 1968.5,1052.8 L1968.5,1018 L1808.5,1018 Z" fill="#fff" stroke="none" stroke-width="0" />
<path d="M1808.5,1052.8 A236,236 0 0 0 1968.5,1052.8" fill="none" stroke="#000" stroke-width="3" />
<path d="M1810.6,1036.6 L1789,1053.8 L1789,1058.4" fill="none" stroke="#000" stroke-width="3" />
<path d="M1834.3,1015 L1834.3,1054 A250,250 0 0 0 1944,1054 L1944,1015 Z" fill="#fff" stroke="#000" stroke-width="3" />
<rect x="1818" y="987.4" width="141.5" height="26.9" rx="0" fill="#fff" stroke="#000" stroke-width="3" />
<path d="M1815,974.2 L1815,1036" stroke="#000" stroke-width="2" fill="none" />
<path d="M1962.5,974.2 L1962.5,1015.4" stroke="#000" stroke-width="2" fill="none" />
<path d="M1833.2,805.4 L1944.2,805.4" stroke="#000" stroke-width="2.2" fill="none" />
<path d="M1833.2,853.2 L1944.2,853.2" stroke="#000" stroke-width="3" fill="none" />
<path d="M1833.2,874.7 L1944.2,874.7" stroke="#000" stroke-width="3" fill="none" />
<rect x="1833.2" y="853.2" width="18.5" height="21.5" rx="0" fill="#fff" stroke="#000" stroke-width="3" />
<circle cx="1842.5" cy="864" r="8.1" fill="url(#xs)" stroke="#000" stroke-width="3.2" />
<rect x="1925.7" y="853.2" width="18.5" height="21.5" rx="0" fill="#fff" stroke="#000" stroke-width="3" />
<circle cx="1935" cy="864" r="8.1" fill="url(#xs)" stroke="#000" stroke-width="3.2" />
<path d="M1833.2,924.8 L1944.2,924.8" stroke="#000" stroke-width="3" fill="none" />
<path d="M1833.2,946 L1944.2,946" stroke="#000" stroke-width="3" fill="none" />
<rect x="1833.2" y="924.8" width="18.5" height="21.2" rx="0" fill="#fff" stroke="#000" stroke-width="3" />
<circle cx="1842.5" cy="935.4" r="8.1" fill="url(#xs)" stroke="#000" stroke-width="3.2" />
<rect x="1925.7" y="924.8" width="18.5" height="21.2" rx="0" fill="#fff" stroke="#000" stroke-width="3" />
<circle cx="1935" cy="935.4" r="8.1" fill="url(#xs)" stroke="#000" stroke-width="3.2" />
<path d="M1470.7,110 L1470.7,566 L1476,577" fill="none" stroke="#000" stroke-width="1.9" />
<path d="M2065,110 L2065,566 L2059.6,577" fill="none" stroke="#000" stroke-width="1.9" />
<path d="M1470.7,116.8 L1738,116.8" stroke="#000" stroke-width="1.9" fill="none" />
<path d="M1799,116.8 L2065,116.8" stroke="#000" stroke-width="1.9" fill="none" />
<path d="M1470.7,116.8 L1497.7,112.2 L1497.7,121.4 Z" fill="#000"/>
<path d="M2065,116.8 L2038,121.4 L2038,112.2 Z" fill="#000"/>
<text x="1768" y="133.5" font-size="51" text-anchor="middle" fill="#000" stroke="#fff" stroke-width="0.7" textLength="46.6" lengthAdjust="spacingAndGlyphs" >54</text>
<path d="M1888.7,180 L1888.7,216" stroke="#000" stroke-width="1.9" fill="none" />
<path d="M1470.7,186.3 L1650,186.3" stroke="#000" stroke-width="1.9" fill="none" />
<path d="M1711,186.3 L1888.7,186.3" stroke="#000" stroke-width="1.9" fill="none" />
<path d="M1470.7,186.3 L1497.7,181.7 L1497.7,190.9 Z" fill="#000"/>
<path d="M1888.7,186.3 L1861.7,190.9 L1861.7,181.7 Z" fill="#000"/>
<text x="1680" y="203.5" font-size="51" text-anchor="middle" fill="#000" stroke="#fff" stroke-width="0.7" textLength="46.6" lengthAdjust="spacingAndGlyphs" >38</text>
<path d="M1383.5,267 L1480,267" stroke="#000" stroke-width="1.9" fill="none" />
<path d="M1383.5,728.4 L1483,728.4" stroke="#000" stroke-width="1.9" fill="none" />
<path d="M1383.5,806 L1716.5,806" stroke="#000" stroke-width="1.9" fill="none" />
<path d="M1390,267 L1390,464" stroke="#000" stroke-width="1.9" fill="none" />
<path d="M1390,529.5 L1390,728.4" stroke="#000" stroke-width="1.9" fill="none" />
<path d="M1390,267 L1394.6,294 L1385.4,294 Z" fill="#000"/>
<path d="M1390,728.4 L1385.4,701.4 L1394.6,701.4 Z" fill="#000"/>
<path d="M1390,806 L1390,861.5" stroke="#000" stroke-width="1.9" fill="none" />
<path d="M1390,806 L1394.6,833 L1385.4,833 Z" fill="#000"/>
<text x="1406" y="498" font-size="51" text-anchor="middle" fill="#000" stroke="#fff" stroke-width="0.7" transform="rotate(-90 1406 498)" textLength="46.6" lengthAdjust="spacingAndGlyphs" >42</text>
<text x="1406" y="767.5" font-size="51" text-anchor="middle" fill="#000" stroke="#fff" stroke-width="0.7" transform="rotate(-90 1406 767.5)" textLength="23.3" lengthAdjust="spacingAndGlyphs" >7</text>
<path d="M2279,1043.3 L2420,1043.3" stroke="#000" stroke-width="1.9" fill="none" />
<path d="M2279,1271.3 L2420,1271.3" stroke="#000" stroke-width="1.9" fill="none" />
<path d="M2405.5,1043.3 L2405.5,1271.3" stroke="#000" stroke-width="1.9" fill="none" />
<path d="M2405.5,1043.3 L2410.1,1070.3 L2400.9,1070.3 Z" fill="#000"/>
<path d="M2405.5,1271.3 L2400.9,1244.3 L2410.1,1244.3 Z" fill="#000"/>
<text x="2398" y="1157.5" font-size="39" text-anchor="middle" fill="#000" stroke="#fff" stroke-width="0.7" transform="rotate(-90 2398 1157.5)" textLength="36" lengthAdjust="spacingAndGlyphs" >D3</text>
<path d="M2081,1092 L2369.5,1092" stroke="#000" stroke-width="1.9" fill="none" />
<path d="M2081,1223.8 L2369.5,1223.8" stroke="#000" stroke-width="1.9" fill="none" />
<path d="M2354.8,1092 L2354.8,1223.8" stroke="#000" stroke-width="1.9" fill="none" />
<path d="M2354.8,1092 L2359.4,1119 L2350.2,1119 Z" fill="#000"/>
<path d="M2354.8,1223.8 L2350.2,1196.8 L2359.4,1196.8 Z" fill="#000"/>
<g transform="translate(2336 1157.5) rotate(-90)">
<ellipse cx="-9" cy="3" rx="7" ry="9" fill="none" stroke="#000" stroke-width="2.4" transform="rotate(18 -9 3)"/>
<path d="M-14.5,15 L-3.5,-11" stroke="#000" stroke-width="2.4"/>
<text x="1" y="12" font-size="39" textLength="17" lengthAdjust="spacingAndGlyphs" stroke="#fff" stroke-width="0.6">d</text>
</g>
<path d="M2097.6,1268 L2097.6,1419.5" stroke="#000" stroke-width="1.9" fill="none" />
<path d="M2274.5,1307 L2274.5,1419.5" stroke="#000" stroke-width="1.9" fill="none" />
<path d="M2097.6,1405 L2274.5,1405" stroke="#000" stroke-width="1.9" fill="none" />
<path d="M2097.6,1405 L2124.6,1400.4 L2124.6,1409.6 Z" fill="#000"/>
<path d="M2274.5,1405 L2247.5,1409.6 L2247.5,1400.4 Z" fill="#000"/>
<text x="2186" y="1398" font-size="39" text-anchor="middle" fill="#000" stroke="#fff" stroke-width="0.7" textLength="38" lengthAdjust="spacingAndGlyphs" >L4</text>
<path d="M1888.7,216 L1888.7,1385" stroke="#333" stroke-width="1" fill="none" stroke-dasharray="100 14 16 14"/>
<path d="M1620,1157.5 L2312,1157.5" stroke="#777" stroke-width="1.2" fill="none" stroke-dasharray="66 16 16 16"/>
<path d="M227.1,1659 L240,1636.6 L335.5,1636.6 L341,1631 L341,1586.6 A3,3 0 0 1 344,1583.6 L378,1583.6 L378,1610.7 L441.6,1610.7 L441.6,1660.2 L488,1660.2 A3,3 0 0 1 491,1663.2 L491,1721.5 L407.4,1721.5 L381.5,1675.5 L381.5,1670.8 L227.1,1670.8" fill="url(#he)" stroke="#000" stroke-width="3" />
<path d="M227.1,1943 L240,1965.4 L335.5,1965.4 L341,1971 L341,2015.4 A3,3 0 0 0 344,2018.4 L378,2018.4 L378,1991.3 L441.6,1991.3 L441.6,1941.8 L488,1941.8 A3,3 0 0 0 491,1938.8 L491,1880.5 L407.4,1880.5 L381.5,1926.5 L381.5,1931.2 L227.1,1931.2" fill="url(#he)" stroke="#000" stroke-width="3" />
<path d="M1049.7,1659 L1036.8,1636.6 L941.3,1636.6 L935.8,1631 L935.8,1586.6 A3,3 0 0 0 932.8,1583.6 L898.8,1583.6 L898.8,1610.7 L835.2,1610.7 L835.2,1660.2 L788.8,1660.2 A3,3 0 0 0 785.8,1663.2 L785.8,1721.5 L869.4,1721.5 L895.3,1675.5 L895.3,1670.8 L1049.7,1670.8" fill="url(#he)" stroke="#000" stroke-width="3" />
<path d="M1049.7,1943 L1036.8,1965.4 L941.3,1965.4 L935.8,1971 L935.8,2015.4 A3,3 0 0 1 932.8,2018.4 L898.8,2018.4 L898.8,1991.3 L835.2,1991.3 L835.2,1941.8 L788.8,1941.8 A3,3 0 0 1 785.8,1938.8 L785.8,1880.5 L869.4,1880.5 L895.3,1926.5 L895.3,1931.2 L1049.7,1931.2" fill="url(#he)" stroke="#000" stroke-width="3" />
<path d="M227.1,1659 L227.1,1943" fill="none" stroke="#000" stroke-width="3" />
<path d="M237.7,1673 L237.7,1929" fill="none" stroke="#000" stroke-width="3" />
<path d="M227.1,1670.8 L381.5,1670.8" fill="none" stroke="#000" stroke-width="2" />
<path d="M229,1674.5 L381.5,1677.5" fill="none" stroke="#000" stroke-width="3.2" />
<path d="M237.7,1677 L381.5,1682" fill="none" stroke="#000" stroke-width="2.2" />
<path d="M227.1,1931.2 L381.5,1931.2" fill="none" stroke="#000" stroke-width="2" />
<path d="M229,1927.5 L381.5,1924.5" fill="none" stroke="#000" stroke-width="3.2" />
<path d="M237.7,1925 L381.5,1920" fill="none" stroke="#000" stroke-width="2.2" />
<path d="M381.5,1675.5 L381.5,1926.5" fill="none" stroke="#000" stroke-width="3" />
<path d="M406.2,1721.5 L406.2,1880.5" fill="none" stroke="#000" stroke-width="3" />
<path d="M449.8,1719 L449.8,1883" fill="none" stroke="#000" stroke-width="3" />
<path d="M407.4,1721.5 L491,1721.5" fill="none" stroke="#000" stroke-width="3" />
<path d="M407.4,1880.5 L491,1880.5" fill="none" stroke="#000" stroke-width="3" />
<path d="M441.6,1610.7 L441.6,1660.2" fill="none" stroke="#000" stroke-width="3" />
<path d="M453.4,1612 L453.4,1660.2" fill="none" stroke="#000" stroke-width="3" />
<path d="M441.6,1991.3 L441.6,1941.8" fill="none" stroke="#000" stroke-width="3" />
<path d="M453.4,1990 L453.4,1941.8" fill="none" stroke="#000" stroke-width="3" />
<path d="M1049.7,1659 L1049.7,1943" fill="none" stroke="#000" stroke-width="3" />
<path d="M1039.1,1673 L1039.1,1929" fill="none" stroke="#000" stroke-width="3" />
<path d="M1049.7,1670.8 L895.3,1670.8" fill="none" stroke="#000" stroke-width="2" />
<path d="M1047.8,1674.5 L895.3,1677.5" fill="none" stroke="#000" stroke-width="3.2" />
<path d="M1039.1,1677 L895.3,1682" fill="none" stroke="#000" stroke-width="2.2" />
<path d="M1049.7,1931.2 L895.3,1931.2" fill="none" stroke="#000" stroke-width="2" />
<path d="M1047.8,1927.5 L895.3,1924.5" fill="none" stroke="#000" stroke-width="3.2" />
<path d="M1039.1,1925 L895.3,1920" fill="none" stroke="#000" stroke-width="2.2" />
<path d="M895.3,1675.5 L895.3,1926.5" fill="none" stroke="#000" stroke-width="3" />
<path d="M870.6,1721.5 L870.6,1880.5" fill="none" stroke="#000" stroke-width="3" />
<path d="M827,1719 L827,1883" fill="none" stroke="#000" stroke-width="3" />
<path d="M869.4,1721.5 L785.8,1721.5" fill="none" stroke="#000" stroke-width="3" />
<path d="M869.4,1880.5 L785.8,1880.5" fill="none" stroke="#000" stroke-width="3" />
<path d="M835.2,1610.7 L835.2,1660.2" fill="none" stroke="#000" stroke-width="3" />
<path d="M823.4,1612 L823.4,1660.2" fill="none" stroke="#000" stroke-width="3" />
<path d="M835.2,1991.3 L835.2,1941.8" fill="none" stroke="#000" stroke-width="3" />
<path d="M823.4,1990 L823.4,1941.8" fill="none" stroke="#000" stroke-width="3" />
<path d="M378,1583.6 L473.4,1583.6 L486.4,1595.4 L498,1595.4 L505.2,1558.9 L771.6,1558.9 L778.8,1595.4 L790.4,1595.4 L803.4,1583.6 L898.8,1583.6 L898.8,1610.7 L823.4,1610.7 L823.4,1615.4 L779.8,1615.4 L779.8,1652 L718.6,1652 L718.6,1608.3 L558.2,1608.3 L558.2,1652 L497,1652 L497,1615.4 L453.4,1615.4 L453.4,1610.7 L378,1610.7 Z" fill="url(#hd)" stroke="#000" stroke-width="3" />
<path d="M378,1583.6 L898.8,1583.6" stroke="#000" stroke-width="0.1" fill="none" />
<path d="M505.2,1559.5 L771.6,1559.5" stroke="#000" stroke-width="4" fill="none" />
<path d="M392,1606 L440,1606" fill="none" stroke="#fff" stroke-width="2.2" />
<path d="M384,1596 L392,1608 L380,1608 Z" fill="#000" stroke="#000" stroke-width="1" />
<ellipse cx="530" cy="1604" rx="10" ry="9" fill="#000"/>
<ellipse cx="531" cy="1997.5" rx="9" ry="9" fill="#000"/>
<path d="M884.8,1606 L836.8,1606" fill="none" stroke="#fff" stroke-width="2.2" />
<path d="M892.8,1596 L884.8,1608 L896.8,1608 Z" fill="#000" stroke="#000" stroke-width="1" />
<ellipse cx="746.8" cy="1604" rx="10" ry="9" fill="#000"/>
<ellipse cx="745.8" cy="1997.5" rx="9" ry="9" fill="#000"/>
<path d="M498,1947.3 L558.2,1947.3 L558.2,2032 L530,2049.8 L513.5,2057 L511.5,2057 L507.6,2211.3 L495.8,2211.3 L472.2,2198.3 L472.2,2098 L422.2,2098 A3,3 0 0 1 419.2,2095 L419.2,2064 L453.4,2064 L453.4,1995.6 L494.6,1995.6 L494.6,1950.5 A3.4,3.4 0 0 1 498,1947.3 Z" fill="url(#hbody)" stroke="#000" stroke-width="3" />
<path d="M778.8,1947.3 L718.6,1947.3 L718.6,2032 L746.8,2049.8 L763.3,2057 L765.3,2057 L769.2,2211.3 L781,2211.3 L804.6,2198.3 L804.6,2098 L854.6,2098 A3,3 0 0 0 857.6,2095 L857.6,2064 L823.4,2064 L823.4,1995.6 L782.2,1995.6 L782.2,1950.5 A3.4,3.4 0 0 0 778.8,1947.3 Z" fill="url(#hbody)" stroke="#000" stroke-width="3" />
<path d="M511.5,2057 L507.6,2209" fill="none" stroke="#000" stroke-width="4.2" />
<path d="M516.5,2058 L512,2209" fill="none" stroke="#000" stroke-width="2" />
<path d="M522.6,2060 L517.3,2200" fill="none" stroke="#000" stroke-width="3" />
<path d="M558.2,1947.3 L558.2,2032" fill="none" stroke="#000" stroke-width="3" />
<path d="M765.3,2057 L769.2,2209" fill="none" stroke="#000" stroke-width="4.2" />
<path d="M760.3,2058 L764.8,2209" fill="none" stroke="#000" stroke-width="2" />
<path d="M754.2,2060 L759.5,2200" fill="none" stroke="#000" stroke-width="3" />
<path d="M718.6,1947.3 L718.6,2032" fill="none" stroke="#000" stroke-width="3" />
<path d="M558.2,2032 L718.6,2032" stroke="#000" stroke-width="3" fill="none" />
<path d="M511.5,2057 L765.3,2057" stroke="#000" stroke-width="3" fill="none" />
<path d="M517.3,2200 L759.5,2200" stroke="#000" stroke-width="3" fill="none" />
<path d="M495.8,2211.3 L781,2211.3" stroke="#000" stroke-width="3" fill="none" />
<path d="M558.2,1956.7 L718.6,1956.7" stroke="#000" stroke-width="4.6" fill="none" />
<path d="M558.2,1988.5 L718.6,1988.5" stroke="#000" stroke-width="3" fill="none" />
<path d="M376.8,1992 L445,1992 L445,2064 L419.2,2064 L419.2,2019.2 L376.8,2019.2 Z" fill="url(#hd)" stroke="#000" stroke-width="3" />
<path d="M447.5,1992 L447.5,2050 L453.4,2050" fill="none" stroke="#000" stroke-width="2.2" />
<path d="M392,1996.5 L444,1996.5" fill="none" stroke="#fff" stroke-width="2" />
<path d="M384,2008 L392,1996 L380,1996 Z" fill="#000" stroke="#000" stroke-width="1" />
<path d="M426,2052 L441,2052 L441,2060 L426,2060 Z" fill="#fff" stroke="#000" stroke-width="2" />
<path d="M900,1992 L831.8,1992 L831.8,2064 L857.6,2064 L857.6,2019.2 L900,2019.2 Z" fill="url(#hd)" stroke="#000" stroke-width="3" />
<path d="M829.3,1992 L829.3,2050 L823.4,2050" fill="none" stroke="#000" stroke-width="2.2" />
<path d="M884.8,1996.5 L832.8,1996.5" fill="none" stroke="#fff" stroke-width="2" />
<path d="M892.8,2008 L884.8,1996 L896.8,1996 Z" fill="#000" stroke="#000" stroke-width="1" />
<path d="M850.8,2052 L835.8,2052 L835.8,2060 L850.8,2060 Z" fill="#fff" stroke="#000" stroke-width="2" />
<rect x="523" y="1613" width="35.2" height="39" rx="0" fill="url(#xb)" stroke="#000" stroke-width="3" />
<rect x="718.6" y="1613" width="35.2" height="39" rx="0" fill="url(#xb)" stroke="#000" stroke-width="3" />
<rect x="520.5" y="1950.8" width="37.7" height="37.7" rx="0" fill="url(#xb)" stroke="#000" stroke-width="3" />
<rect x="718.6" y="1950.8" width="37.7" height="37.7" rx="0" fill="url(#xb)" stroke="#000" stroke-width="3" />
<rect x="449.8" y="1683.8" width="38.9" height="35.2" rx="0" fill="url(#xb)" stroke="#000" stroke-width="3" />
<rect x="449.8" y="1883" width="38.9" height="35.2" rx="0" fill="url(#xb)" stroke="#000" stroke-width="3" />
<rect x="436.9" y="1682.6" width="14.1" height="22.4" rx="0" fill="#000" stroke="#000" stroke-width="1" />
<rect x="436.9" y="1897" width="14.1" height="22.4" rx="0" fill="#000" stroke="#000" stroke-width="1" />
<rect x="788.1" y="1683.8" width="38.9" height="35.2" rx="0" fill="url(#xb)" stroke="#000" stroke-width="3" />
<rect x="788.1" y="1883" width="38.9" height="35.2" rx="0" fill="url(#xb)" stroke="#000" stroke-width="3" />
<rect x="825.8" y="1682.6" width="14.1" height="22.4" rx="0" fill="#000" stroke="#000" stroke-width="1" />
<rect x="825.8" y="1897" width="14.1" height="22.4" rx="0" fill="#000" stroke="#000" stroke-width="1" />
<g clip-path="url(#clipT)">
<circle cx="638.4" cy="1801" r="177.5" fill="#fff" stroke="#000" stroke-width="3" />
<circle cx="638.4" cy="1801" r="177.5" fill="url(#hball)" stroke="#000" stroke-width="3" />
</g>
<rect x="558.2" y="1610" width="160.4" height="379" rx="0" fill="#fff" stroke="none" stroke-width="0" />
<rect x="455" y="1721.5" width="105" height="159" rx="0" fill="#fff" stroke="none" stroke-width="0" />
<path d="M558.2,1721.5 L638.4,1801 L558.2,1880.5" fill="none" stroke="#000" stroke-width="3" />
<path d="M481.6,1721.5 L481.6,1880.5" stroke="#000" stroke-width="4.4" fill="none" />
<path d="M449.8,1721.5 L560,1721.5" stroke="#000" stroke-width="3" fill="none" />
<path d="M449.8,1880.5 L560,1880.5" stroke="#000" stroke-width="3" fill="none" />
<path d="M558.2,1652 L558.2,1721.5" stroke="#000" stroke-width="3" fill="none" />
<path d="M558.2,1880.5 L558.2,1950.8" stroke="#000" stroke-width="3" fill="none" />
<path d="M718.6,1608.3 L718.6,1989" stroke="#000" stroke-width="3" fill="none" />
<path d="M558.2,1608.3 L558.2,1652" stroke="#000" stroke-width="3" fill="none" />
<path d="M558.2,1608.3 L718.6,1608.3" stroke="#000" stroke-width="3" fill="none" />
<path d="M558.2,1615.4 L718.6,1615.4" stroke="#000" stroke-width="1.6" fill="none" />
<path d="M558.2,1643.7 L718.6,1643.7" stroke="#000" stroke-width="4.6" fill="none" />
<path d="M558.2,1956.7 L718.6,1956.7" stroke="#000" stroke-width="4.6" fill="none" />
<path d="M558.2,1988.5 L718.6,1988.5" stroke="#000" stroke-width="3" fill="none" />
<path d="M638.4,1527 L638.4,1615.5" stroke="#222" stroke-width="1.5" fill="none" />
<path d="M638.4,1641 L638.4,1664" stroke="#222" stroke-width="1.5" fill="none" />
<path d="M638.4,1683 L638.4,1836" stroke="#222" stroke-width="1.5" fill="none" />
<path d="M638.4,1857 L638.4,1870" stroke="#222" stroke-width="1.5" fill="none" />
<path d="M638.4,1886.5 L638.4,1916" stroke="#222" stroke-width="1.5" fill="none" />
<path d="M638.4,1935 L638.4,2057" stroke="#222" stroke-width="1.5" fill="none" />
<path d="M638.4,2092 L638.4,2130" stroke="#222" stroke-width="1.5" fill="none" />
<path d="M638.4,2153 L638.4,2274" stroke="#222" stroke-width="1.5" fill="none" />
<path d="M149,1801 L321,1801" stroke="#222" stroke-width="1.5" fill="none" />
<path d="M351,1801 L562,1801" stroke="#222" stroke-width="1.5" fill="none" />
<path d="M592,1801 L637,1801" stroke="#222" stroke-width="1.5" fill="none" />
<path d="M654,1801 L811,1801" stroke="#222" stroke-width="1.5" fill="none" />
<path d="M833,1801 L863,1801" stroke="#222" stroke-width="1.5" fill="none" />
<path d="M895,1801 L1067,1801" stroke="#222" stroke-width="1.5" fill="none" />
<text x="643.9" y="2314" font-size="40" text-anchor="middle" fill="#111" stroke="#fff" stroke-width="0.3" textLength="108" lengthAdjust="spacingAndGlyphs" >T-Type</text>
<path d="M1385.7,1659 L1398.6,1636.6 L1494.1,1636.6 L1499.6,1631 L1499.6,1586.6 A3,3 0 0 1 1502.6,1583.6 L1536.6,1583.6 L1536.6,1610.7 L1600.2,1610.7 L1600.2,1660.2 L1646.6,1660.2 A3,3 0 0 1 1649.6,1663.2 L1649.6,1721.5 L1566,1721.5 L1540.1,1675.5 L1540.1,1670.8 L1385.7,1670.8" fill="url(#he2)" stroke="#000" stroke-width="3" />
<path d="M1385.7,1943 L1398.6,1965.4 L1494.1,1965.4 L1499.6,1971 L1499.6,2015.4 A3,3 0 0 0 1502.6,2018.4 L1536.6,2018.4 L1536.6,1991.3 L1600.2,1991.3 L1600.2,1941.8 L1646.6,1941.8 A3,3 0 0 0 1649.6,1938.8 L1649.6,1880.5 L1566,1880.5 L1540.1,1926.5 L1540.1,1931.2 L1385.7,1931.2" fill="url(#he2)" stroke="#000" stroke-width="3" />
<path d="M2208.3,1659 L2195.4,1636.6 L2099.9,1636.6 L2094.4,1631 L2094.4,1586.6 A3,3 0 0 0 2091.4,1583.6 L2057.4,1583.6 L2057.4,1610.7 L1993.8,1610.7 L1993.8,1660.2 L1947.4,1660.2 A3,3 0 0 0 1944.4,1663.2 L1944.4,1721.5 L2028,1721.5 L2053.9,1675.5 L2053.9,1670.8 L2208.3,1670.8" fill="url(#hd2)" stroke="#000" stroke-width="3" />
<path d="M2208.3,1943 L2195.4,1965.4 L2099.9,1965.4 L2094.4,1971 L2094.4,2015.4 A3,3 0 0 1 2091.4,2018.4 L2057.4,2018.4 L2057.4,1991.3 L1993.8,1991.3 L1993.8,1941.8 L1947.4,1941.8 A3,3 0 0 1 1944.4,1938.8 L1944.4,1880.5 L2028,1880.5 L2053.9,1926.5 L2053.9,1931.2 L2208.3,1931.2" fill="url(#hd2)" stroke="#000" stroke-width="3" />
<path d="M1385.7,1659 L1385.7,1943" fill="none" stroke="#000" stroke-width="3" />
<path d="M1396.3,1673 L1396.3,1929" fill="none" stroke="#000" stroke-width="3" />
<path d="M1385.7,1670.8 L1540.1,1670.8" fill="none" stroke="#000" stroke-width="2" />
<path d="M1387.6,1674.5 L1540.1,1677.5" fill="none" stroke="#000" stroke-width="3.2" />
<path d="M1396.3,1677 L1540.1,1682" fill="none" stroke="#000" stroke-width="2.2" />
<path d="M1385.7,1931.2 L1540.1,1931.2" fill="none" stroke="#000" stroke-width="2" />
<path d="M1387.6,1927.5 L1540.1,1924.5" fill="none" stroke="#000" stroke-width="3.2" />
<path d="M1396.3,1925 L1540.1,1920" fill="none" stroke="#000" stroke-width="2.2" />
<path d="M1540.1,1675.5 L1540.1,1926.5" fill="none" stroke="#000" stroke-width="3" />
<path d="M1564.8,1721.5 L1564.8,1880.5" fill="none" stroke="#000" stroke-width="3" />
<path d="M1608.4,1719 L1608.4,1883" fill="none" stroke="#000" stroke-width="3" />
<path d="M1566,1721.5 L1649.6,1721.5" fill="none" stroke="#000" stroke-width="3" />
<path d="M1566,1880.5 L1649.6,1880.5" fill="none" stroke="#000" stroke-width="3" />
<path d="M1600.2,1610.7 L1600.2,1660.2" fill="none" stroke="#000" stroke-width="3" />
<path d="M1612,1612 L1612,1660.2" fill="none" stroke="#000" stroke-width="3" />
<path d="M1600.2,1991.3 L1600.2,1941.8" fill="none" stroke="#000" stroke-width="3" />
<path d="M1612,1990 L1612,1941.8" fill="none" stroke="#000" stroke-width="3" />
<path d="M2208.3,1659 L2208.3,1943" fill="none" stroke="#000" stroke-width="3" />
<path d="M2197.7,1673 L2197.7,1929" fill="none" stroke="#000" stroke-width="3" />
<path d="M2208.3,1670.8 L2053.9,1670.8" fill="none" stroke="#000" stroke-width="2" />
<path d="M2206.4,1674.5 L2053.9,1677.5" fill="none" stroke="#000" stroke-width="7" />
<path d="M2197.7,1677 L2053.9,1682" fill="none" stroke="#000" stroke-width="2.2" />
<path d="M2208.3,1931.2 L2053.9,1931.2" fill="none" stroke="#000" stroke-width="2" />
<path d="M2206.4,1927.5 L2053.9,1924.5" fill="none" stroke="#000" stroke-width="7" />
<path d="M2197.7,1925 L2053.9,1920" fill="none" stroke="#000" stroke-width="2.2" />
<path d="M2053.9,1675.5 L2053.9,1926.5" fill="none" stroke="#000" stroke-width="3" />
<path d="M2029.2,1721.5 L2029.2,1880.5" fill="none" stroke="#000" stroke-width="3" />
<path d="M1985.6,1719 L1985.6,1883" fill="none" stroke="#000" stroke-width="3" />
<path d="M2028,1721.5 L1944.4,1721.5" fill="none" stroke="#000" stroke-width="3" />
<path d="M2028,1880.5 L1944.4,1880.5" fill="none" stroke="#000" stroke-width="3" />
<path d="M1993.8,1610.7 L1993.8,1660.2" fill="none" stroke="#000" stroke-width="3" />
<path d="M1982,1612 L1982,1660.2" fill="none" stroke="#000" stroke-width="3" />
<path d="M1993.8,1991.3 L1993.8,1941.8" fill="none" stroke="#000" stroke-width="3" />
<path d="M1982,1990 L1982,1941.8" fill="none" stroke="#000" stroke-width="3" />
<path d="M1536.6,1583.6 L1632,1583.6 L1645,1595.4 L1656.6,1595.4 L1663.8,1558.9 L1930.2,1558.9 L1937.4,1595.4 L1949,1595.4 L1962,1583.6 L2057.4,1583.6 L2057.4,1610.7 L1982,1610.7 L1982,1615.4 L1938.4,1615.4 L1938.4,1652 L1877.2,1652 L1877.2,1608.3 L1716.8,1608.3 L1716.8,1652 L1655.6,1652 L1655.6,1615.4 L1612,1615.4 L1612,1610.7 L1536.6,1610.7 Z" fill="url(#hd)" stroke="#000" stroke-width="3" />
<path d="M1536.6,1583.6 L2057.4,1583.6" stroke="#000" stroke-width="0.1" fill="none" />
<path d="M1663.8,1559.5 L1930.2,1559.5" stroke="#000" stroke-width="4" fill="none" />
<path d="M1550.6,1606 L1598.6,1606" fill="none" stroke="#fff" stroke-width="2.2" />
<path d="M1542.6,1596 L1550.6,1608 L1538.6,1608 Z" fill="#000" stroke="#000" stroke-width="1" />
<ellipse cx="1688.6" cy="1604" rx="10" ry="9" fill="#000"/>
<ellipse cx="1689.6" cy="1997.5" rx="9" ry="9" fill="#000"/>
<path d="M2043.4,1606 L1995.4,1606" fill="none" stroke="#fff" stroke-width="2.2" />
<path d="M2051.4,1596 L2043.4,1608 L2055.4,1608 Z" fill="#000" stroke="#000" stroke-width="1" />
<ellipse cx="1905.4" cy="1604" rx="10" ry="9" fill="#000"/>
<ellipse cx="1904.4" cy="1997.5" rx="9" ry="9" fill="#000"/>
<path d="M1656.6,1947.3 L1716.8,1947.3 L1716.8,2032 L1688.6,2049.8 L1672.1,2057 L1670.1,2057 L1666.2,2211.3 L1654.4,2211.3 L1630.8,2198.3 L1630.8,2098 L1580.8,2098 A3,3 0 0 1 1577.8,2095 L1577.8,2064 L1612,2064 L1612,1995.6 L1653.2,1995.6 L1653.2,1950.5 A3.4,3.4 0 0 1 1656.6,1947.3 Z" fill="#fff" stroke="#000" stroke-width="3" />
<path d="M1937.4,1947.3 L1877.2,1947.3 L1877.2,2032 L1905.4,2049.8 L1921.9,2057 L1923.9,2057 L1927.8,2211.3 L1939.6,2211.3 L1963.2,2198.3 L1963.2,2098 L2013.2,2098 A3,3 0 0 0 2016.2,2095 L2016.2,2064 L1982,2064 L1982,1995.6 L1940.8,1995.6 L1940.8,1950.5 A3.4,3.4 0 0 0 1937.4,1947.3 Z" fill="#fff" stroke="#000" stroke-width="3" />
<path d="M1670.1,2057 L1666.2,2209" fill="none" stroke="#000" stroke-width="4.2" />
<path d="M1675.1,2058 L1670.6,2209" fill="none" stroke="#000" stroke-width="2" />
<path d="M1681.2,2060 L1675.9,2200" fill="none" stroke="#000" stroke-width="3" />
<path d="M1716.8,1947.3 L1716.8,2032" fill="none" stroke="#000" stroke-width="3" />
<path d="M1923.9,2057 L1927.8,2209" fill="none" stroke="#000" stroke-width="4.2" />
<path d="M1918.9,2058 L1923.4,2209" fill="none" stroke="#000" stroke-width="2" />
<path d="M1912.8,2060 L1918.1,2200" fill="none" stroke="#000" stroke-width="3" />
<path d="M1877.2,1947.3 L1877.2,2032" fill="none" stroke="#000" stroke-width="3" />
<path d="M1716.8,2032 L1877.2,2032" stroke="#000" stroke-width="3" fill="none" />
<path d="M1670.1,2057 L1923.9,2057" stroke="#000" stroke-width="3" fill="none" />
<path d="M1675.9,2200 L1918.1,2200" stroke="#000" stroke-width="3" fill="none" />
<path d="M1654.4,2211.3 L1939.6,2211.3" stroke="#000" stroke-width="3" fill="none" />
<path d="M1716.8,1956.7 L1877.2,1956.7" stroke="#000" stroke-width="4.6" fill="none" />
<path d="M1716.8,1988.5 L1877.2,1988.5" stroke="#000" stroke-width="3" fill="none" />
<path d="M1535.4,1992 L1603.6,1992 L1603.6,2064 L1577.8,2064 L1577.8,2019.2 L1535.4,2019.2 Z" fill="url(#hd)" stroke="#000" stroke-width="3" />
<path d="M1606.1,1992 L1606.1,2050 L1612,2050" fill="none" stroke="#000" stroke-width="2.2" />
<path d="M1550.6,1996.5 L1602.6,1996.5" fill="none" stroke="#fff" stroke-width="2" />
<path d="M1542.6,2008 L1550.6,1996 L1538.6,1996 Z" fill="#000" stroke="#000" stroke-width="1" />
<path d="M1584.6,2052 L1599.6,2052 L1599.6,2060 L1584.6,2060 Z" fill="#fff" stroke="#000" stroke-width="2" />
<path d="M2058.6,1992 L1990.4,1992 L1990.4,2064 L2016.2,2064 L2016.2,2019.2 L2058.6,2019.2 Z" fill="url(#hd)" stroke="#000" stroke-width="3" />
<path d="M1987.9,1992 L1987.9,2050 L1982,2050" fill="none" stroke="#000" stroke-width="2.2" />
<path d="M2043.4,1996.5 L1991.4,1996.5" fill="none" stroke="#fff" stroke-width="2" />
<path d="M2051.4,2008 L2043.4,1996 L2055.4,1996 Z" fill="#000" stroke="#000" stroke-width="1" />
<path d="M2009.4,2052 L1994.4,2052 L1994.4,2060 L2009.4,2060 Z" fill="#fff" stroke="#000" stroke-width="2" />
<rect x="1681.6" y="1613" width="35.2" height="39" rx="0" fill="url(#xb)" stroke="#000" stroke-width="3" />
<rect x="1877.2" y="1613" width="35.2" height="39" rx="0" fill="url(#xb)" stroke="#000" stroke-width="3" />
<rect x="1679.1" y="1950.8" width="37.7" height="37.7" rx="0" fill="url(#xb)" stroke="#000" stroke-width="3" />
<rect x="1877.2" y="1950.8" width="37.7" height="37.7" rx="0" fill="url(#xb)" stroke="#000" stroke-width="3" />
<rect x="1679.9" y="1988" width="21.3" height="16" rx="0" fill="#000" stroke="#000" stroke-width="1" />
<rect x="1892.8" y="1988" width="21.3" height="16" rx="0" fill="#000" stroke="#000" stroke-width="1" />
<rect x="1603.6" y="1684.7" width="46" height="35.5" rx="0" fill="#fff" stroke="#000" stroke-width="3" />
<rect x="1603.6" y="1881.8" width="46" height="35.5" rx="0" fill="#fff" stroke="#000" stroke-width="3" />
<rect x="1593.6" y="1684" width="16" height="22" rx="0" fill="#000" stroke="#000" stroke-width="1" />
<rect x="1593.6" y="1896" width="16" height="22" rx="0" fill="#000" stroke="#000" stroke-width="1" />
<rect x="1946.7" y="1683.8" width="38.9" height="35.2" rx="0" fill="url(#xb)" stroke="#000" stroke-width="3" />
<rect x="1946.7" y="1883" width="38.9" height="35.2" rx="0" fill="url(#xb)" stroke="#000" stroke-width="3" />
<rect x="1984.4" y="1682.6" width="14.1" height="22.4" rx="0" fill="#000" stroke="#000" stroke-width="1" />
<rect x="1984.4" y="1897" width="14.1" height="22.4" rx="0" fill="#000" stroke="#000" stroke-width="1" />
<g clip-path="url(#clipL)">
<circle cx="1797" cy="1801" r="178.5" fill="#fff" stroke="#000" stroke-width="3" />
<circle cx="1797" cy="1801" r="178.5" fill="url(#hball)" stroke="#000" stroke-width="3" />
</g>
<path d="M1618.6,1720 L1876.7,1720 L1876.7,1990 L1717,1990 L1717,1881.3 L1618.6,1881.3 Z" fill="#fff" stroke="none" stroke-width="0" />
<path d="M1639,1720 L1876.7,1720 L1876.7,1956" fill="none" stroke="#000" stroke-width="3" />
<path d="M1639,1881.3 L1717,1881.3 L1717,1956" fill="none" stroke="#000" stroke-width="3" />
<path d="M1797,1801 L1717,1881.3" fill="none" stroke="#000" stroke-width="3" />
<path d="M1639,1720 L1639,1881.3" stroke="#000" stroke-width="4.4" fill="none" />
<path d="M1785,1720 C1799 1707 1853.6 1709 1876.7 1720 Z" fill="#fff" stroke="#000" stroke-width="2.4" />
<path d="M1876.7,1720 Q1905.6 1800.6 1876.7 1881.3 Z" fill="#fff" stroke="#000" stroke-width="2.4" />
<path d="M1783,1720 L1876.7,1720 L1876.7,1956" fill="none" stroke="#000" stroke-width="3" />
<path d="M1751.6,1608.3 L1841.6,1608.3" stroke="#000" stroke-width="3" fill="none" />
<path d="M1748.6,1615.4 L1844.6,1615.4" stroke="#000" stroke-width="1.6" fill="none" />
<path d="M1716.8,1652 L1716.8,1612 L1720.6,1608.3 L1873.6,1608.3 L1877.2,1612 L1877.2,1652" fill="none" stroke="#000" stroke-width="3" />
<path d="M1716.8,1956.7 L1877.2,1956.7" stroke="#000" stroke-width="4.6" fill="none" />
<path d="M1716.8,1988.5 L1877.2,1988.5" stroke="#000" stroke-width="3" fill="none" />
<path d="M1716.8,1950 L1716.8,2032" stroke="#000" stroke-width="3" fill="none" />
<path d="M1877.2,1950 L1877.2,2032" stroke="#000" stroke-width="3" fill="none" />
<path d="M1608.4,1720 L1608.4,1881.3" stroke="#000" stroke-width="3" fill="none" />
<path d="M1797,1527 L1797,1615.5" stroke="#222" stroke-width="1.5" fill="none" />
<path d="M1797,1641 L1797,1664" stroke="#222" stroke-width="1.5" fill="none" />
<path d="M1797,1683 L1797,1836" stroke="#222" stroke-width="1.5" fill="none" />
<path d="M1797,1857 L1797,1870" stroke="#222" stroke-width="1.5" fill="none" />
<path d="M1797,1886.5 L1797,1916" stroke="#222" stroke-width="1.5" fill="none" />
<path d="M1797,1935 L1797,2057" stroke="#222" stroke-width="1.5" fill="none" />
<path d="M1797,2092 L1797,2130" stroke="#222" stroke-width="1.5" fill="none" />
<path d="M1797,2153 L1797,2274" stroke="#222" stroke-width="1.5" fill="none" />
<path d="M1372,1801 L1524.4,1801" stroke="#222" stroke-width="1.5" fill="none" />
<path d="M1554,1801 L1583.4,1801" stroke="#222" stroke-width="1.5" fill="none" />
<path d="M1613,1801 L1765.4,1801" stroke="#222" stroke-width="1.5" fill="none" />
<path d="M1795,1801 L1824.4,1801" stroke="#222" stroke-width="1.5" fill="none" />
<path d="M1856.4,1801 L2006.4,1801" stroke="#222" stroke-width="1.5" fill="none" />
<path d="M2036,1801 L2065.4,1801" stroke="#222" stroke-width="1.5" fill="none" />
<path d="M2095,1801 L2250,1801" stroke="#222" stroke-width="1.5" fill="none" />
<text x="1802.5" y="2314" font-size="40" text-anchor="middle" fill="#111" stroke="#fff" stroke-width="0.3" textLength="108" lengthAdjust="spacingAndGlyphs" >L-Type</text>
</svg></body></html>
